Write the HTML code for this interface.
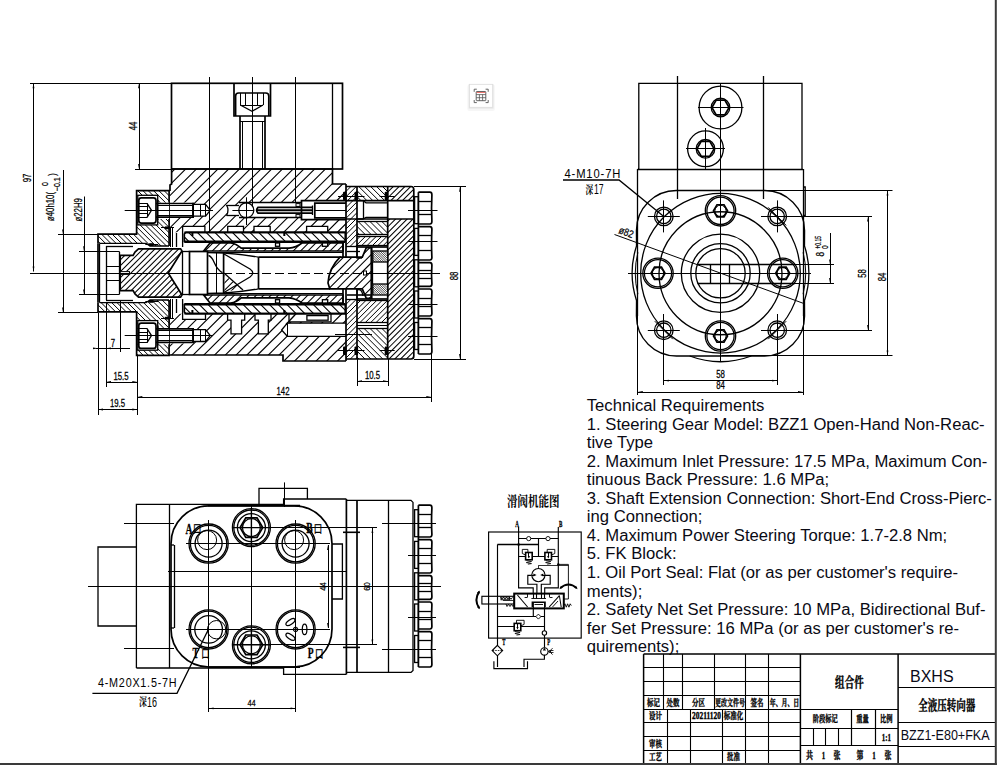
<!DOCTYPE html><html><head><meta charset="utf-8"><title>BZZ1-E80+FKA</title><style>html,body{margin:0;padding:0;background:#fff;overflow:hidden}svg{display:block}</style></head><body><svg width="1000" height="768" viewBox="0 0 1000 768" shape-rendering="geometricPrecision"><rect width="1000" height="768" fill="#fff"/>
<g id="v1">
<clipPath id="c1"><polygon points="171.6,169 332.5,169 332.5,184 346,184 346,361 283,361 283,355 170,355 170,185 171.6,184"/></clipPath><g clip-path="url(#c1)"><path d="M70.39,262.8L255.8,77.39M75.76,268.18L261.18,82.76M81.14,273.55L266.55,88.14M86.51,278.92L271.92,93.51M91.88,284.3L277.3,98.88M97.26,289.67L282.67,104.26M102.63,295.05L288.05,109.63M108.01,300.42L293.42,115.01M113.38,305.79L298.79,120.38M118.75,311.17L304.17,125.75M124.13,316.54L309.54,131.13M129.5,321.92L314.92,136.5M134.88,327.29L320.29,141.88M140.25,332.66L325.66,147.25M145.62,338.04L331.04,152.62M151,343.41L336.41,158M156.37,348.79L341.79,163.37M161.75,354.16L347.16,168.75M167.12,359.53L352.53,174.12M172.49,364.91L357.91,179.49M177.87,370.28L363.28,184.87M183.24,375.66L368.66,190.24M188.62,381.03L374.03,195.62M193.99,386.4L379.4,200.99M199.36,391.78L384.78,206.36M204.74,397.15L390.15,211.74M210.11,402.53L395.53,217.11M215.49,407.9L400.9,222.49M220.86,413.27L406.27,227.86M226.23,418.65L411.65,233.23M231.61,424.02L417.02,238.61M236.98,429.4L422.4,243.98M242.36,434.77L427.77,249.36M247.73,440.14L433.14,254.73M253.1,445.52L438.52,260.1M258.48,450.89L443.89,265.48" stroke="#000" stroke-width="1.1" fill="none"/></g>
<polygon points="170,232.3 346,232.3 346,313.7 170,313.7" fill="#fff" stroke="none" stroke-width="0" stroke-linejoin="miter"/>
<polygon points="182.6,226.4 204.9,226.4 204.9,232.3 182.6,232.3" fill="#fff" stroke="none" stroke-width="0" stroke-linejoin="miter"/>
<polygon points="227.7,226.4 243.5,226.4 243.5,232.3 227.7,232.3" fill="#fff" stroke="none" stroke-width="0" stroke-linejoin="miter"/>
<polygon points="254,226.4 270.2,226.4 270.2,232.3 254,232.3" fill="#fff" stroke="none" stroke-width="0" stroke-linejoin="miter"/>
<polygon points="306.6,226.4 327.7,226.4 327.7,232.3 306.6,232.3" fill="#fff" stroke="none" stroke-width="0" stroke-linejoin="miter"/>
<polygon points="183.4,313.7 205.5,313.7 205.5,319.4 183.4,319.4" fill="#fff" stroke="none" stroke-width="0" stroke-linejoin="miter"/>
<polygon points="227.6,313.7 244.7,313.7 244.7,320.2 227.6,320.2" fill="#fff" stroke="none" stroke-width="0" stroke-linejoin="miter"/>
<polygon points="231,320 241.6,320 241.6,333.8 231,333.8" fill="#fff" stroke="none" stroke-width="0" stroke-linejoin="miter"/>
<polygon points="255,313.7 271,313.7 271,320.2 255,320.2" fill="#fff" stroke="none" stroke-width="0" stroke-linejoin="miter"/>
<polygon points="258.4,320 268.3,320 268.3,333.8 258.4,333.8" fill="#fff" stroke="none" stroke-width="0" stroke-linejoin="miter"/>
<polygon points="289,313.7 331,313.7 331,321.9 289,321.9" fill="#fff" stroke="none" stroke-width="0" stroke-linejoin="miter"/>
<polygon points="169,202.6 193.1,202.6 193.1,204.4 205.6,204.4 210.2,210.3 205.6,216.1 193.1,216.1 193.1,217.3 169,217.3" fill="#fff" stroke="none" stroke-width="0" stroke-linejoin="miter"/>
<polygon points="169,343.4 193.1,343.4 193.1,341.6 205.6,341.6 210.2,335.7 205.6,329.9 193.1,329.9 193.1,328.7 169,328.7" fill="#fff" stroke="none" stroke-width="0" stroke-linejoin="miter"/>
<path d="M226.5,205 Q229.5,210.3 226.5,215.6 L239,215.6 L239,217.9 L301.5,217.9 L301.5,219.6 L346,219.6 L346,200.6 L301.5,200.6 L301.5,202.6 L239,202.6 L239,205 Z" fill="#fff" stroke="none" stroke-width="0" />
<polygon points="281.6,330 287.3,323.2 346,323.2 346,336.3 287.3,336.3" fill="#fff" stroke="none" stroke-width="0" stroke-linejoin="miter"/>
<polyline points="171.6,169 332.5,169 332.5,184 346,184" fill="none" stroke="#000" stroke-width="1.7" stroke-linejoin="miter"/>
<polyline points="171.6,169 171.6,184 170,185 170,191" fill="none" stroke="#000" stroke-width="1.7" stroke-linejoin="miter"/>
<polyline points="170,355 283,355 283,361 346,361" fill="none" stroke="#000" stroke-width="1.7" stroke-linejoin="miter"/>
<line x1="184.3" y1="232.3" x2="346" y2="232.3" stroke="#000" stroke-width="1.7"/>
<line x1="184.3" y1="313.7" x2="346" y2="313.7" stroke="#000" stroke-width="1.7"/>
<polyline points="227.7,232.3 227.7,226.4 243.5,226.4 243.5,232.3" fill="none" stroke="#000" stroke-width="1.3" stroke-linejoin="miter"/>
<polyline points="254,232.3 254,226.4 270.2,226.4 270.2,232.3" fill="none" stroke="#000" stroke-width="1.3" stroke-linejoin="miter"/>
<polyline points="306.6,232.3 306.6,226.4 327.7,226.4 327.7,232.3" fill="none" stroke="#000" stroke-width="1.3" stroke-linejoin="miter"/>
<polyline points="182.6,247 182.6,226.4 204.9,226.4 204.9,232.3" fill="none" stroke="#000" stroke-width="1.3" stroke-linejoin="miter"/>
<polyline points="182.6,299 182.6,319.4 205.5,319.4 205.5,313.7" fill="none" stroke="#000" stroke-width="1.3" stroke-linejoin="miter"/>
<polyline points="227.6,313.7 227.6,320.2 231,320.2 231,333.8 241.6,333.8 241.6,320.2 244.7,320.2 244.7,313.7" fill="none" stroke="#000" stroke-width="1.3" stroke-linejoin="miter"/>
<polyline points="255,313.7 255,320.2 258.4,320.2 258.4,333.8 268.3,333.8 268.3,320.2 271,320.2 271,313.7" fill="none" stroke="#000" stroke-width="1.3" stroke-linejoin="miter"/>
<polyline points="289,313.7 289,321.9 331,321.9 331,313.7" fill="none" stroke="#000" stroke-width="1.3" stroke-linejoin="miter"/>
<rect x="306.9" y="315.6" width="21.2" height="4.6" rx="0" fill="none" stroke="#000" stroke-width="1.3"/>
<polyline points="346,323.2 287.3,323.2 281.6,330 287.3,336.3 346,336.3" fill="none" stroke="#000" stroke-width="1.3" stroke-linejoin="miter"/>
<line x1="287.5" y1="323.2" x2="287.5" y2="336.3" stroke="#000" stroke-width="1"/>
<line x1="296" y1="313.7" x2="286" y2="324.5" stroke="#000" stroke-width="1.3"/>
<line x1="335" y1="334.5" x2="372" y2="334.5" stroke="#000" stroke-width="1"/>
<clipPath id="c2"><polygon points="98,234.2 136.6,234.2 136.6,190.6 169.1,190.6 169.1,246 150,246 146,243.3 98,243.3"/></clipPath><g clip-path="url(#c2)"><path d="M132.99,154.2L197.65,218.86M130.33,156.85L195,221.52M127.68,159.5L192.35,224.17M125.03,162.15L189.7,226.82M122.38,164.81L187.04,229.47M119.73,167.46L184.39,232.12M117.08,170.11L181.74,234.77M114.42,172.76L179.09,237.43M111.77,175.41L176.44,240.08M109.12,178.06L173.79,242.73M106.47,180.72L171.13,245.38M103.82,183.37L168.48,248.03M101.17,186.02L165.83,250.68M98.51,188.67L163.18,253.34M95.86,191.32L160.53,255.99M93.21,193.97L157.88,258.64M90.56,196.63L155.22,261.29M87.91,199.28L152.57,263.94M85.26,201.93L149.92,266.59M82.6,204.58L147.27,269.25M79.95,207.23L144.62,271.9M77.3,209.88L141.97,274.55M74.65,212.54L139.31,277.2M72,215.19L136.66,279.85M69.35,217.84L134.01,282.5" stroke="#000" stroke-width="1" fill="none"/></g>
<clipPath id="c3"><polygon points="98,311.8 136.6,311.8 136.6,355.4 169.1,355.4 169.1,300 150,300 146,302.7 98,302.7"/></clipPath><g clip-path="url(#c3)"><path d="M134.65,261.93L199.32,326.6M132,264.58L196.67,329.25M129.35,267.24L194.01,331.9M126.7,269.89L191.36,334.55M124.05,272.54L188.71,337.2M121.4,275.19L186.06,339.85M118.74,277.84L183.41,342.51M116.09,280.49L180.76,345.16M113.44,283.15L178.1,347.81M110.79,285.8L175.45,350.46M108.14,288.45L172.8,353.11M105.49,291.1L170.15,355.76M102.83,293.75L167.5,358.42M100.18,296.4L164.85,361.07M97.53,299.06L162.19,363.72M94.88,301.71L159.54,366.37M92.23,304.36L156.89,369.02M89.58,307.01L154.24,371.67M86.92,309.66L151.59,374.33M84.27,312.31L148.94,376.98M81.62,314.97L146.28,379.63M78.97,317.62L143.63,382.28M76.32,320.27L140.98,384.93M73.67,322.92L138.33,387.58M71.01,325.57L135.68,390.24M68.36,328.22L133.03,392.89" stroke="#000" stroke-width="1" fill="none"/></g>
<polyline points="98,243.3 98,234.2 136.6,234.2 136.6,190.6 169.1,190.6 169.1,246" fill="none" stroke="#000" stroke-width="1.7" stroke-linejoin="miter"/>
<polyline points="98,302.7 98,311.8 136.6,311.8 136.6,355.4 169.1,355.4 169.1,300" fill="none" stroke="#000" stroke-width="1.7" stroke-linejoin="miter"/>
<polyline points="99.7,243.3 146,243.3 150,246 169,246" fill="none" stroke="#000" stroke-width="1.3" stroke-linejoin="miter"/>
<polyline points="99.7,302.7 146,302.7 150,300 169,300" fill="none" stroke="#000" stroke-width="1.3" stroke-linejoin="miter"/>
<line x1="98" y1="243.3" x2="98" y2="302.7" stroke="#000" stroke-width="1.7"/>
<line x1="99.5" y1="243.3" x2="99.5" y2="302.7" stroke="#000" stroke-width="1.3"/>
<rect x="137.8" y="195.3" width="19.9" height="29.6" rx="0" fill="#fff" stroke="#000" stroke-width="1.3"/>
<rect x="157.7" y="202.6" width="11.4" height="16.4" rx="0" fill="#fff" stroke="none" stroke-width="0"/>
<rect x="138.8" y="197.9" width="17.2" height="25.2" rx="2.5" fill="none" stroke="#000" stroke-width="1.7"/>
<line x1="139" y1="203.5" x2="147" y2="203.5" stroke="#000" stroke-width="1"/>
<line x1="139" y1="206.5" x2="147" y2="206.5" stroke="#000" stroke-width="1"/>
<line x1="139" y1="213.5" x2="147" y2="213.5" stroke="#000" stroke-width="1"/>
<line x1="139" y1="217.5" x2="147" y2="217.5" stroke="#000" stroke-width="1"/>
<polyline points="147,203.3 151.5,210.3 147,217.3" fill="none" stroke="#000" stroke-width="1.3" stroke-linejoin="miter"/>
<line x1="147.5" y1="203.3" x2="147.5" y2="217.3" stroke="#000" stroke-width="1"/>
<polyline points="156,203.5 193.1,203.5 193.1,217.1 156,217.1" fill="none" stroke="#000" stroke-width="1.7" stroke-linejoin="miter"/>
<line x1="158" y1="205.5" x2="193" y2="205.5" stroke="#000" stroke-width="1"/>
<line x1="158" y1="215.5" x2="193" y2="215.5" stroke="#000" stroke-width="1"/>
<line x1="157.7" y1="200.3" x2="157.7" y2="220.3" stroke="#000" stroke-width="1.7"/>
<polyline points="193.1,204.4 205.6,204.4 210.2,210.3 205.6,216.2 193.1,216.2" fill="none" stroke="#000" stroke-width="1.3" stroke-linejoin="miter"/>
<line x1="200.5" y1="204.4" x2="200.5" y2="216.2" stroke="#000" stroke-width="1"/>
<line x1="205.5" y1="204.4" x2="205.5" y2="216.2" stroke="#000" stroke-width="1"/>
<line x1="193.1" y1="202.8" x2="193.1" y2="217.8" stroke="#000" stroke-width="1.8"/>
<line x1="124.7" y1="210.5" x2="213" y2="210.5" stroke="#000" stroke-width="1"/>
<rect x="137.8" y="320.6" width="19.9" height="29.6" rx="0" fill="#fff" stroke="#000" stroke-width="1.3"/>
<rect x="157.7" y="327.9" width="11.4" height="16.4" rx="0" fill="#fff" stroke="none" stroke-width="0"/>
<rect x="138.8" y="323.2" width="17.2" height="25.2" rx="2.5" fill="none" stroke="#000" stroke-width="1.7"/>
<line x1="139" y1="328.5" x2="147" y2="328.5" stroke="#000" stroke-width="1"/>
<line x1="139" y1="332.5" x2="147" y2="332.5" stroke="#000" stroke-width="1"/>
<line x1="139" y1="339.5" x2="147" y2="339.5" stroke="#000" stroke-width="1"/>
<line x1="139" y1="342.5" x2="147" y2="342.5" stroke="#000" stroke-width="1"/>
<polyline points="147,328.6 151.5,335.6 147,342.6" fill="none" stroke="#000" stroke-width="1.3" stroke-linejoin="miter"/>
<line x1="147.5" y1="328.6" x2="147.5" y2="342.6" stroke="#000" stroke-width="1"/>
<polyline points="156,328.8 193.1,328.8 193.1,342.4 156,342.4" fill="none" stroke="#000" stroke-width="1.7" stroke-linejoin="miter"/>
<line x1="158" y1="330.5" x2="193" y2="330.5" stroke="#000" stroke-width="1"/>
<line x1="158" y1="340.5" x2="193" y2="340.5" stroke="#000" stroke-width="1"/>
<line x1="157.7" y1="325.6" x2="157.7" y2="345.6" stroke="#000" stroke-width="1.7"/>
<polyline points="193.1,329.7 205.6,329.7 210.2,335.6 205.6,341.5 193.1,341.5" fill="none" stroke="#000" stroke-width="1.3" stroke-linejoin="miter"/>
<line x1="200.5" y1="329.7" x2="200.5" y2="341.5" stroke="#000" stroke-width="1"/>
<line x1="205.5" y1="329.7" x2="205.5" y2="341.5" stroke="#000" stroke-width="1"/>
<line x1="193.1" y1="328.1" x2="193.1" y2="343.1" stroke="#000" stroke-width="1.8"/>
<line x1="124.7" y1="335.5" x2="213" y2="335.5" stroke="#000" stroke-width="1"/>
<rect x="149.1" y="243.2" width="4.4" height="2.8" rx="0" fill="#000" stroke="none" stroke-width="0"/>
<line x1="145.3" y1="244.5" x2="158.3" y2="244.5" stroke="#000" stroke-width="1"/>
<rect x="164.8" y="226.4" width="4.4" height="2.8" rx="0" fill="#000" stroke="none" stroke-width="0"/>
<line x1="161" y1="227.5" x2="174" y2="227.5" stroke="#000" stroke-width="1"/>
<rect x="149.1" y="300" width="4.4" height="2.8" rx="0" fill="#000" stroke="none" stroke-width="0"/>
<line x1="145.3" y1="301.5" x2="158.3" y2="301.5" stroke="#000" stroke-width="1"/>
<rect x="164.8" y="316.8" width="4.4" height="2.8" rx="0" fill="#000" stroke="none" stroke-width="0"/>
<line x1="161" y1="318.5" x2="174" y2="318.5" stroke="#000" stroke-width="1"/>
<line x1="170.5" y1="227" x2="170.5" y2="247" stroke="#000" stroke-width="1"/>
<line x1="172.5" y1="227" x2="172.5" y2="247" stroke="#000" stroke-width="1"/>
<line x1="170.5" y1="299" x2="170.5" y2="319" stroke="#000" stroke-width="1"/>
<line x1="172.5" y1="299" x2="172.5" y2="319" stroke="#000" stroke-width="1"/>
<line x1="176.5" y1="233" x2="176.5" y2="247" stroke="#000" stroke-width="1.3"/>
<line x1="176.5" y1="299" x2="176.5" y2="313" stroke="#000" stroke-width="1.3"/>
<line x1="106.5" y1="246" x2="106.5" y2="300" stroke="#000" stroke-width="1.3"/>
<line x1="106" y1="246.5" x2="133" y2="246.5" stroke="#000" stroke-width="1.3"/>
<line x1="106" y1="300.5" x2="133" y2="300.5" stroke="#000" stroke-width="1.3"/>
<line x1="119.5" y1="251.8" x2="119.5" y2="294.2" stroke="#000" stroke-width="1.3"/>
<line x1="98" y1="251.5" x2="119.6" y2="251.5" stroke="#000" stroke-width="1"/>
<line x1="98" y1="294.5" x2="119.6" y2="294.5" stroke="#000" stroke-width="1"/>
<line x1="106" y1="266.5" x2="119.6" y2="266.5" stroke="#000" stroke-width="1"/>
<line x1="106" y1="280.5" x2="119.6" y2="280.5" stroke="#000" stroke-width="1"/>
<clipPath id="c4"><polygon points="120.2,255.3 133.1,255.3 135,252 138.5,248.9 180.6,248.9 182,251 168.2,273 182,295 180.6,297.1 138.5,297.1 135,294 133.1,290.7 120.2,290.7"/></clipPath><g clip-path="url(#c4)"><path d="M94.97,273.29L151.39,216.87M97.94,276.26L154.36,219.84M100.91,279.23L157.33,222.81M103.88,282.2L160.3,225.78M106.85,285.17L163.27,228.75M109.82,288.14L166.24,231.72M112.79,291.11L169.21,234.69M115.76,294.08L172.18,237.66M118.73,297.05L175.15,240.63M121.7,300.02L178.12,243.6M124.67,302.99L181.09,246.57M127.64,305.96L184.06,249.54M130.61,308.93L187.03,252.51M133.58,311.9L190,255.48M136.55,314.87L192.97,258.45M139.52,317.84L195.94,261.42M142.49,320.81L198.91,264.39M145.46,323.78L201.88,267.36M148.43,326.74L204.84,270.33M151.4,329.71L207.81,273.3" stroke="#000" stroke-width="1.05" fill="none"/></g>
<polygon points="120.2,255.3 133.1,255.3 135,252 138.5,248.9 180.6,248.9 182,251 168.2,273 182,295 180.6,297.1 138.5,297.1 135,294 133.1,290.7 120.2,290.7" fill="none" stroke="#000" stroke-width="1.7" stroke-linejoin="miter"/>
<rect x="120.2" y="271.6" width="9.3" height="2.8" rx="0" fill="#fff" stroke="#000" stroke-width="1"/>
<line x1="182.5" y1="251" x2="182.5" y2="295" stroke="#000" stroke-width="1.3"/>
<line x1="168.2" y1="273.5" x2="182" y2="273.5" stroke="#000" stroke-width="1"/>
<clipPath id="c5"><polygon points="186,232.3 345.3,232.3 345.3,241.3 184.3,241.3 184.3,234"/></clipPath><g clip-path="url(#c5)"><path d="M264.59,150.6L351,237.01M260.2,154.98L346.62,241.4M255.82,159.37L342.23,245.78M251.43,163.75L337.85,250.17M247.05,168.14L333.46,254.55M242.67,172.52L329.08,258.93M238.28,176.9L324.7,263.32M233.9,181.29L320.31,267.7M229.51,185.67L315.93,272.09M225.13,190.06L311.54,276.47M220.75,194.44L307.16,280.85M216.36,198.82L302.78,285.24M211.98,203.21L298.39,289.62M207.59,207.59L294.01,294.01M203.21,211.98L289.62,298.39M198.82,216.36L285.24,302.78M194.44,220.75L280.85,307.16M190.06,225.13L276.47,311.54M185.67,229.51L272.09,315.93M181.29,233.9L267.7,320.31M176.9,238.28L263.32,324.7" stroke="#000" stroke-width="1.1" fill="none"/></g>
<clipPath id="c6"><polygon points="186,313.7 345.3,313.7 345.3,304.7 184.3,304.7 184.3,312"/></clipPath><g clip-path="url(#c6)"><path d="M265.71,221.87L352.13,308.29M261.33,226.26L347.74,312.67M256.95,230.64L343.36,317.05M252.56,235.02L338.98,321.44M248.18,239.41L334.59,325.82M243.79,243.79L330.21,330.21M239.41,248.18L325.82,334.59M235.02,252.56L321.44,338.98M230.64,256.95L317.05,343.36M226.26,261.33L312.67,347.74M221.87,265.71L308.29,352.13M217.49,270.1L303.9,356.51M213.1,274.48L299.52,360.9M208.72,278.87L295.13,365.28M204.34,283.25L290.75,369.66M199.95,287.63L286.37,374.05M195.57,292.02L281.98,378.43M191.18,296.4L277.6,382.82M186.8,300.79L273.21,387.2M182.42,305.17L268.83,391.58M178.03,309.55L264.45,395.97" stroke="#000" stroke-width="1.1" fill="none"/></g>
<polygon points="186,232.3 345.3,232.3 345.3,241.3 184.3,241.3 184.3,234" fill="none" stroke="#000" stroke-width="1.7" stroke-linejoin="miter"/>
<polygon points="186,313.7 345.3,313.7 345.3,304.7 184.3,304.7 184.3,312" fill="none" stroke="#000" stroke-width="1.7" stroke-linejoin="miter"/>
<rect x="191.4" y="233" width="2" height="3" rx="0" fill="#000" stroke="none" stroke-width="0"/>
<rect x="191.4" y="310" width="2" height="3" rx="0" fill="#000" stroke="none" stroke-width="0"/>
<rect x="283.3" y="233" width="2" height="3" rx="0" fill="#000" stroke="none" stroke-width="0"/>
<rect x="283.3" y="310" width="2" height="3" rx="0" fill="#000" stroke="none" stroke-width="0"/>
<clipPath id="c7"><path d="M210,243 L230.6,243 Q236,243.5 241.2,248.2 L289,248.2 Q296,247.5 302,243 L343,243 L343,251 L203.7,251 Z"/></clipPath><g clip-path="url(#c7)"><path d="M196.26,244.97L271.32,169.91M199.94,248.65L275,173.59M203.61,252.33L278.68,177.26M207.29,256.01L282.36,180.94M210.97,259.68L286.03,184.62M214.64,263.36L289.71,188.29M218.32,267.04L293.39,191.97M222,270.71L297.06,195.65M225.68,274.39L300.74,199.33M229.35,278.07L304.42,203M233.03,281.74L308.09,206.68M236.71,285.42L311.77,210.36M240.38,289.1L315.45,214.03M244.06,292.77L319.12,217.71M247.74,296.45L322.8,221.39M251.41,300.13L326.48,225.06M255.09,303.81L330.16,228.74M258.77,307.48L333.83,232.42M262.45,311.16L337.51,236.1M266.12,314.84L341.19,239.77M269.8,318.51L344.86,243.45M273.48,322.19L348.54,247.13" stroke="#000" stroke-width="1.05" fill="none"/></g>
<path d="M210,243 L230.6,243 Q236,243.5 241.2,248.2 L289,248.2 Q296,247.5 302,243 L343,243 L343,251 L203.7,251 Z" fill="none" stroke="#000" stroke-width="1.7" />
<clipPath id="c8"><path d="M210,303 L230.6,303 Q236,302.5 241.2,297.8 L289,297.8 Q296,298.5 302,303 L343,303 L343,295 L203.7,295 Z"/></clipPath><g clip-path="url(#c8)"><path d="M196,296.71L271.06,221.65M199.68,300.39L274.74,225.33M203.35,304.07L278.42,229M207.03,307.74L282.09,232.68M210.71,311.42L285.77,236.36M214.38,315.1L289.45,240.03M218.06,318.77L293.12,243.71M221.74,322.45L296.8,247.39M225.41,326.13L300.48,251.06M229.09,329.81L304.16,254.74M232.77,333.48L307.83,258.42M236.45,337.16L311.51,262.1M240.12,340.84L315.19,265.77M243.8,344.51L318.86,269.45M247.48,348.19L322.54,273.13M251.15,351.87L326.22,276.8M254.83,355.54L329.89,280.48M258.51,359.22L333.57,284.16M262.18,362.9L337.25,287.83M265.86,366.58L340.93,291.51M269.54,370.25L344.6,295.19M273.21,373.93L348.28,298.86" stroke="#000" stroke-width="1.05" fill="none"/></g>
<path d="M210,303 L230.6,303 Q236,302.5 241.2,297.8 L289,297.8 Q296,298.5 302,303 L343,303 L343,295 L203.7,295 Z" fill="none" stroke="#000" stroke-width="1.7" />
<rect x="275.5" y="243" width="4.1" height="3.3" rx="0" fill="#fff" stroke="#000" stroke-width="1.3"/>
<rect x="275.5" y="299.7" width="4.1" height="3.3" rx="0" fill="#fff" stroke="#000" stroke-width="1.3"/>
<rect x="322.4" y="243" width="5.3" height="3.3" rx="0" fill="#fff" stroke="#000" stroke-width="1.3"/>
<rect x="322.4" y="299.7" width="5.3" height="3.3" rx="0" fill="#fff" stroke="#000" stroke-width="1.3"/>
<line x1="184.3" y1="242.5" x2="345" y2="242.5" stroke="#000" stroke-width="1"/>
<line x1="184.3" y1="303.5" x2="345" y2="303.5" stroke="#000" stroke-width="1"/>
<rect x="189.5" y="251.5" width="18" height="43" rx="0" fill="#fff" stroke="#000" stroke-width="1.7"/>
<line x1="183" y1="251.5" x2="189.6" y2="251.5" stroke="#000" stroke-width="1.3"/>
<line x1="183" y1="294.5" x2="189.6" y2="294.5" stroke="#000" stroke-width="1.3"/>
<line x1="216.5" y1="253" x2="216.5" y2="293" stroke="#000" stroke-width="1"/>
<line x1="223.6" y1="253" x2="223.6" y2="293" stroke="#000" stroke-width="1.7"/>
<path d="M207.5,252.6 L224,253 Q242,254.2 258.5,257.2" fill="none" stroke="#000" stroke-width="1.3" />
<path d="M207.5,293.4 L224,293 Q242,291.8 258.5,288.8" fill="none" stroke="#000" stroke-width="1.3" />
<path d="M208.5,255.5 C215,257 213,268 222.5,272.6" fill="none" stroke="#000" stroke-width="1.3" />
<path d="M224,254 L250,269 Q255.5,273 250,277 L224,292.5" fill="none" stroke="#000" stroke-width="1.3" />
<line x1="224" y1="273" x2="243" y2="290" stroke="#000" stroke-width="1.3"/>
<clipPath id="c9"><polygon points="224.5,275 236,284.3 241,288.7 224.5,292"/></clipPath><g clip-path="url(#c9)"><path d="M211.9,280.81L230.06,262.65M215.58,284.49L233.74,266.33M219.25,288.17L237.42,270M222.93,291.84L241.09,273.68M226.61,295.52L244.77,277.36M230.28,299.2L248.45,281.03M233.96,302.87L252.12,284.71" stroke="#000" stroke-width="1.05" fill="none"/></g>
<line x1="258.5" y1="257.1" x2="341" y2="257.1" stroke="#000" stroke-width="1.7"/>
<line x1="258.5" y1="288.9" x2="330" y2="288.9" stroke="#000" stroke-width="1.7"/>
<line x1="258.5" y1="257.1" x2="258.5" y2="288.9" stroke="#000" stroke-width="1.7"/>
<line x1="207.2" y1="252.5" x2="343" y2="252.5" stroke="#000" stroke-width="1"/>
<line x1="207.2" y1="293.5" x2="343" y2="293.5" stroke="#000" stroke-width="1"/>
<path d="M340,257.1 L362.3,257.1 L366.3,247.7 L371.5,247.7 L371.5,298.3 L366.3,298.3 L362.3,288.9 L329.8,288.9 L328,283 Q329,268 340,257.1 Z" fill="#fff" stroke="none" stroke-width="0" />
<clipPath id="c10"><path d="M340,257.1 L362.3,257.1 L366.3,247.7 L371.5,247.7 L371.5,298.3 L366.3,298.3 L362.3,288.9 L329.8,288.9 L328,283 Q329,268 340,257.1 Z"/></clipPath><g clip-path="url(#c10)"><path d="M297.83,269.55L346.3,221.08M302.01,273.72L350.47,225.26M306.18,277.89L354.64,229.43M310.35,282.06L358.81,233.6M314.52,286.24L362.99,237.77M318.69,290.41L367.16,241.94M322.87,294.58L371.33,246.12M327.04,298.75L375.5,250.29M331.21,302.92L379.67,254.46M335.38,307.1L383.85,258.63M339.55,311.27L388.02,262.8M343.73,315.44L392.19,266.98M347.9,319.61L396.36,271.15M352.07,323.78L400.53,275.32" stroke="#000" stroke-width="1.1" fill="none"/></g>
<path d="M340,257.1 L362.3,257.1 L366.3,247.7 L371.5,247.7 L371.5,298.3 L366.3,298.3 L362.3,288.9 L329.8,288.9 L328,283 Q329,268 340,257.1 Z" fill="none" stroke="#000" stroke-width="1.7" />
<rect x="363.5" y="271" width="3" height="4" rx="0" fill="#fff" stroke="#000" stroke-width="1"/>
<clipPath id="c11"><polygon points="346,186.5 357,186.5 357,246.3 346,246.3"/></clipPath><g clip-path="url(#c11)"><path d="M315.16,216.87L351.97,180.06M317.84,219.56L354.66,182.74M320.53,222.24L357.34,185.43M323.22,224.93L360.03,188.12M325.9,227.62L362.72,190.8M328.59,230.31L365.41,193.49M331.28,232.99L368.09,196.18M333.97,235.68L370.78,198.87M336.65,238.37L373.47,201.55M339.34,241.05L376.15,204.24M342.03,243.74L378.84,206.93M344.71,246.43L381.53,209.61M347.4,249.11L384.21,212.3M350.09,251.8L386.9,214.99M352.77,254.49L389.59,217.67" stroke="#000" stroke-width="1" fill="none"/></g>
<clipPath id="c12"><polygon points="346,299.8 357,299.8 357,359 346,359"/></clipPath><g clip-path="url(#c12)"><path d="M315.23,329.65L351.75,293.13M317.92,332.33L354.43,295.82M320.61,335.02L357.12,298.51M323.29,337.71L359.81,301.19M325.98,340.4L362.5,303.88M328.67,343.08L365.18,306.57M331.36,345.77L367.87,309.26M334.04,348.46L370.56,311.94M336.73,351.14L373.24,314.63M339.42,353.83L375.93,317.32M342.1,356.52L378.62,320M344.79,359.2L381.3,322.69M347.48,361.89L383.99,325.38M350.16,364.58L386.68,328.06M352.85,367.27L389.37,330.75" stroke="#000" stroke-width="1" fill="none"/></g>
<clipPath id="c13"><polygon points="357,186.5 387.7,186.5 387.7,200.6 357,200.6"/></clipPath><g clip-path="url(#c13)"><path d="M372.02,170.07L395.83,193.88M369.05,173.04L392.86,196.85M366.08,176.01L389.89,199.82M363.11,178.98L386.92,202.79M360.14,181.95L383.95,205.76M357.17,184.92L380.98,208.73M354.2,187.89L378.01,211.7M351.23,190.86L375.04,214.67M348.26,193.83L372.07,217.64" stroke="#000" stroke-width="1" fill="none"/></g>
<clipPath id="c14"><polygon points="357,221 387.7,221 387.7,234 357,234"/></clipPath><g clip-path="url(#c14)"><path d="M374.42,202.17L397.68,225.43M371.45,205.14L394.71,228.4M368.48,208.11L391.74,231.37M365.51,211.08L388.77,234.34M362.54,214.05L385.8,237.31M359.57,217.02L382.83,240.28M356.6,219.99L379.86,243.25M353.63,222.96L376.89,246.22M350.66,225.93L373.92,249.19M347.69,228.9L370.95,252.16" stroke="#000" stroke-width="1" fill="none"/></g>
<clipPath id="c15"><polygon points="357,236 387.7,236 387.7,245.8 357,245.8"/></clipPath><g clip-path="url(#c15)"><path d="M350.46,240.68L372.13,219.01M353.15,243.36L374.81,221.7M355.84,246.05L377.5,224.39M358.52,248.74L380.19,227.07M361.21,251.43L382.88,229.76M363.9,254.11L385.56,232.45M366.59,256.8L388.25,235.14M369.27,259.49L390.94,237.82M371.96,262.17L393.62,240.51" stroke="#000" stroke-width="1" fill="none"/></g>
<clipPath id="c16"><polygon points="357,300.6 387.7,300.6 387.7,322.7 357,322.7"/></clipPath><g clip-path="url(#c16)"><path d="M344.26,311.37L372.07,283.56M346.94,314.06L374.76,286.24M349.63,316.75L377.45,288.93M352.32,319.43L380.13,291.62M355.01,322.12L382.82,294.31M357.69,324.81L385.51,296.99M360.38,327.49L388.19,299.68M363.07,330.18L390.88,302.37M365.75,332.87L393.57,305.05M368.44,335.55L396.25,307.74M371.13,338.24L398.94,310.43M373.81,340.93L401.63,313.11" stroke="#000" stroke-width="1" fill="none"/></g>
<clipPath id="c17"><polygon points="357,328.7 387.7,328.7 387.7,359 357,359"/></clipPath><g clip-path="url(#c17)"><path d="M371.84,312.44L403.76,344.36M368.87,315.41L400.79,347.33M365.9,318.38L397.82,350.3M362.93,321.35L394.85,353.27M359.96,324.32L391.88,356.24M356.99,327.29L388.91,359.21M354.02,330.26L385.94,362.18M351.05,333.23L382.97,365.15M348.08,336.2L380,368.12M345.11,339.17L377.03,371.09M342.14,342.14L374.06,374.06M339.17,345.11L371.09,377.03" stroke="#000" stroke-width="1" fill="none"/></g>
<clipPath id="c18"><path d="M387.7,186.5 L411,186.5 Q413.8,186.5 413.8,189.5 L413.8,200.6 L387.7,200.6 Z"/></clipPath><g clip-path="url(#c18)"><path d="M379.86,194.17L401.37,172.66M382.76,197.07L404.27,175.56M385.66,199.97L407.17,178.46M388.55,202.87L410.07,181.35M391.45,205.77L412.97,184.25M394.35,208.67L415.87,187.15M397.25,211.57L418.77,190.05M400.15,214.47L421.67,192.95" stroke="#000" stroke-width="1.05" fill="none"/></g>
<clipPath id="c19"><path d="M387.7,219 L413.8,219 L413.8,356 Q413.8,359 411,359 L387.7,359 Z"/></clipPath><g clip-path="url(#c19)"><path d="M315.15,287.87L399.62,203.4M318.05,290.77L402.52,206.3M320.95,293.67L405.42,209.2M323.85,296.56L408.31,212.1M326.75,299.46L411.21,215M329.65,302.36L414.11,217.9M332.55,305.26L417.01,220.8M335.45,308.16L419.91,223.7M338.35,311.06L422.81,226.6M341.25,313.96L425.71,229.5M344.14,316.86L428.61,232.39M347.04,319.76L431.51,235.29M349.94,322.66L434.41,238.19M352.84,325.56L437.31,241.09M355.74,328.46L440.21,243.99M358.64,331.35L443.1,246.89M361.54,334.25L446,249.79M364.44,337.15L448.9,252.69M367.34,340.05L451.8,255.59M370.24,342.95L454.7,258.49M373.14,345.85L457.6,261.39M376.04,348.75L460.5,264.29M378.93,351.65L463.4,267.18M381.83,354.55L466.3,270.08M384.73,357.45L469.2,272.98M387.63,360.35L472.1,275.88M390.53,363.25L475,278.78M393.43,366.14L477.89,281.68M396.33,369.04L480.79,284.58M399.23,371.94L483.69,287.48M402.13,374.84L486.59,290.38" stroke="#000" stroke-width="1.05" fill="none"/></g>
<path d="M346,186.5 L411,186.5 Q413.8,186.5 413.8,189.5 L413.8,356 Q413.8,359 411,359 L346,359" fill="none" stroke="#000" stroke-width="1.7" />
<line x1="346" y1="184" x2="346" y2="257" stroke="#000" stroke-width="1.7"/>
<line x1="346" y1="289" x2="346" y2="361" stroke="#000" stroke-width="1.7"/>
<line x1="357" y1="186.5" x2="357" y2="257" stroke="#000" stroke-width="1.7"/>
<line x1="357" y1="289" x2="357" y2="359" stroke="#000" stroke-width="1.7"/>
<line x1="387.7" y1="186.5" x2="387.7" y2="359" stroke="#000" stroke-width="1.7"/>
<line x1="346" y1="200.6" x2="413.8" y2="200.6" stroke="#000" stroke-width="1.7"/>
<line x1="346" y1="219" x2="413.8" y2="219" stroke="#000" stroke-width="1.7"/>
<path d="M357,200.6 L363,200.6 L366,202.8 L387.7,202.8" fill="none" stroke="#000" stroke-width="1.3" />
<path d="M357,219 L363,219 L366,217.4 L387.7,217.4" fill="none" stroke="#000" stroke-width="1.3" />
<line x1="363.5" y1="200.6" x2="363.5" y2="219" stroke="#000" stroke-width="1.3"/>
<line x1="357" y1="221.5" x2="387.7" y2="221.5" stroke="#000" stroke-width="1.3"/>
<line x1="357" y1="234.5" x2="387.7" y2="234.5" stroke="#000" stroke-width="1.3"/>
<line x1="357" y1="236.5" x2="387.7" y2="236.5" stroke="#000" stroke-width="1.3"/>
<line x1="357" y1="245.5" x2="387.7" y2="245.5" stroke="#000" stroke-width="1.3"/>
<line x1="346" y1="246.5" x2="357" y2="246.5" stroke="#000" stroke-width="1.3"/>
<line x1="357" y1="247" x2="387.7" y2="247" stroke="#000" stroke-width="1.7"/>
<line x1="346" y1="299.5" x2="357" y2="299.5" stroke="#000" stroke-width="1.3"/>
<line x1="357" y1="299" x2="387.7" y2="299" stroke="#000" stroke-width="1.7"/>
<line x1="357" y1="300.5" x2="387.7" y2="300.5" stroke="#000" stroke-width="1.3"/>
<line x1="357" y1="322.5" x2="387.7" y2="322.5" stroke="#000" stroke-width="1.3"/>
<line x1="357" y1="325.5" x2="387.7" y2="325.5" stroke="#000" stroke-width="1"/>
<line x1="357" y1="328.5" x2="387.7" y2="328.5" stroke="#000" stroke-width="1.3"/>
<rect x="372.8" y="251" width="14.9" height="11" rx="0" fill="#fff" stroke="none" stroke-width="0"/>
<clipPath id="c20"><polygon points="372.8,251 387.7,251 387.7,262 372.8,262"/></clipPath><g clip-path="url(#c20)"><path d="M380.21,242.18L394.57,256.54M379.08,243.31L393.44,257.67M377.94,244.44L392.31,258.81M376.81,245.57L391.18,259.94M375.68,246.7L390.05,261.07M374.55,247.84L388.91,262.2M373.42,248.97L387.78,263.33M372.29,250.1L386.65,264.46M371.16,251.23L385.52,265.59M370.02,252.36L384.39,266.73M368.89,253.49L383.26,267.86M367.76,254.62L382.13,268.99M366.63,255.76L380.99,270.12M365.5,256.89L379.86,271.25" stroke="#111" stroke-width="0.75" fill="none"/></g>
<rect x="372.8" y="251" width="14.9" height="11" rx="0" fill="none" stroke="#000" stroke-width="1.3"/>
<rect x="372.8" y="284" width="14.9" height="11" rx="0" fill="#fff" stroke="none" stroke-width="0"/>
<clipPath id="c21"><polygon points="372.8,284 387.7,284 387.7,295 372.8,295"/></clipPath><g clip-path="url(#c21)"><path d="M379.74,275.65L394.1,290.01M378.6,276.78L392.97,291.15M377.47,277.91L391.84,292.28M376.34,279.04L390.71,293.41M375.21,280.18L389.57,294.54M374.08,281.31L388.44,295.67M372.95,282.44L387.31,296.8M371.82,283.57L386.18,297.93M370.68,284.7L385.05,299.07M369.55,285.83L383.92,300.2M368.42,286.96L382.79,301.33M367.29,288.09L381.66,302.46M366.16,289.23L380.52,303.59" stroke="#111" stroke-width="0.75" fill="none"/></g>
<rect x="372.8" y="284" width="14.9" height="11" rx="0" fill="none" stroke="#000" stroke-width="1.3"/>
<line x1="371.5" y1="247" x2="371.5" y2="299" stroke="#000" stroke-width="1.7"/>
<line x1="372.5" y1="262" x2="372.5" y2="284" stroke="#000" stroke-width="1.3"/>
<line x1="343" y1="243" x2="343" y2="257" stroke="#000" stroke-width="1.7"/>
<line x1="343" y1="289" x2="343" y2="303" stroke="#000" stroke-width="1.7"/>
<line x1="347" y1="251.5" x2="360" y2="251.5" stroke="#000" stroke-width="1.3"/>
<line x1="347" y1="295" x2="372" y2="295" stroke="#000" stroke-width="1.6"/>
<path d="M357,247 L357,258 L362,258" fill="none" stroke="#000" stroke-width="1.3" />
<path d="M357,299 L357,290 Q362,288 363,296" fill="none" stroke="#000" stroke-width="1.3" />
<rect x="343" y="191.8" width="3.6" height="8.4" rx="1" fill="#000" stroke="none" stroke-width="0"/>
<line x1="338" y1="196.5" x2="353" y2="196.5" stroke="#000" stroke-width="1"/>
<rect x="343" y="346.6" width="3.6" height="8.4" rx="1" fill="#000" stroke="none" stroke-width="0"/>
<line x1="338" y1="350.5" x2="353" y2="350.5" stroke="#000" stroke-width="1"/>
<rect x="354.5" y="191.8" width="3.6" height="8.4" rx="1" fill="#000" stroke="none" stroke-width="0"/>
<line x1="349.5" y1="196.5" x2="364.5" y2="196.5" stroke="#000" stroke-width="1"/>
<rect x="354.5" y="346.6" width="3.6" height="8.4" rx="1" fill="#000" stroke="none" stroke-width="0"/>
<line x1="349.5" y1="350.5" x2="364.5" y2="350.5" stroke="#000" stroke-width="1"/>
<rect x="384.7" y="191.8" width="3.6" height="8.4" rx="1" fill="#000" stroke="none" stroke-width="0"/>
<line x1="379.7" y1="196.5" x2="394.7" y2="196.5" stroke="#000" stroke-width="1"/>
<rect x="384.7" y="346.6" width="3.6" height="8.4" rx="1" fill="#000" stroke="none" stroke-width="0"/>
<line x1="379.7" y1="350.5" x2="394.7" y2="350.5" stroke="#000" stroke-width="1"/>
<line x1="418.4" y1="192.2" x2="418.4" y2="354" stroke="#000" stroke-width="1.7"/>
<path d="M418.4,192.2 L430,192.2 Q431.8,192.2 431.9,194.7 Q431.2,208.1 431.9,221.5 Q431.8,224 430,224 L418.4,224" fill="none" stroke="#000" stroke-width="1.7" />
<line x1="418.4" y1="201.5" x2="431.6" y2="201.5" stroke="#000" stroke-width="1.3"/>
<line x1="418.4" y1="214.5" x2="431.6" y2="214.5" stroke="#000" stroke-width="1.3"/>
<path d="M418.4,226.6 L430,226.6 Q431.8,226.6 431.9,229.1 Q431.2,243.3 431.9,257.5 Q431.8,260 430,260 L418.4,260" fill="none" stroke="#000" stroke-width="1.7" />
<line x1="418.4" y1="235.5" x2="431.6" y2="235.5" stroke="#000" stroke-width="1.3"/>
<line x1="418.4" y1="250.5" x2="431.6" y2="250.5" stroke="#000" stroke-width="1.3"/>
<path d="M418.4,262.6 L430,262.6 Q431.8,262.6 431.9,265.1 Q431.2,274.5 431.9,283.9 Q431.8,286.4 430,286.4 L418.4,286.4" fill="none" stroke="#000" stroke-width="1.7" />
<line x1="418.4" y1="270.5" x2="431.6" y2="270.5" stroke="#000" stroke-width="1.3"/>
<line x1="418.4" y1="278.5" x2="431.6" y2="278.5" stroke="#000" stroke-width="1.3"/>
<path d="M418.4,289 L430,289 Q431.8,289 431.9,291.5 Q431.2,302.5 431.9,313.5 Q431.8,316 430,316 L418.4,316" fill="none" stroke="#000" stroke-width="1.7" />
<line x1="418.4" y1="298.5" x2="431.6" y2="298.5" stroke="#000" stroke-width="1.3"/>
<line x1="418.4" y1="306.5" x2="431.6" y2="306.5" stroke="#000" stroke-width="1.3"/>
<path d="M418.4,318.6 L430,318.6 Q431.8,318.6 431.9,321.1 Q431.2,336.3 431.9,351.5 Q431.8,354 430,354 L418.4,354" fill="none" stroke="#000" stroke-width="1.7" />
<line x1="418.4" y1="327.5" x2="431.6" y2="327.5" stroke="#000" stroke-width="1.3"/>
<line x1="418.4" y1="344.5" x2="431.6" y2="344.5" stroke="#000" stroke-width="1.3"/>
<rect x="414.6" y="196.7" width="3.8" height="27" rx="0" fill="none" stroke="#000" stroke-width="1.3"/>
<line x1="408" y1="210.5" x2="437.5" y2="210.5" stroke="#000" stroke-width="1"/>
<rect x="414.6" y="228.4" width="3.8" height="27" rx="0" fill="none" stroke="#000" stroke-width="1.3"/>
<line x1="408" y1="241.5" x2="437.5" y2="241.5" stroke="#000" stroke-width="1"/>
<rect x="414.6" y="259.8" width="3.8" height="27" rx="0" fill="none" stroke="#000" stroke-width="1.3"/>
<line x1="408" y1="273.5" x2="437.5" y2="273.5" stroke="#000" stroke-width="1"/>
<rect x="414.6" y="291" width="3.8" height="27" rx="0" fill="none" stroke="#000" stroke-width="1.3"/>
<line x1="408" y1="304.5" x2="437.5" y2="304.5" stroke="#000" stroke-width="1"/>
<rect x="414.6" y="322.5" width="3.8" height="27" rx="0" fill="none" stroke="#000" stroke-width="1.3"/>
<line x1="408" y1="336.5" x2="437.5" y2="336.5" stroke="#000" stroke-width="1"/>
<rect x="171.5" y="83.3" width="171" height="85.7" rx="0" fill="none" stroke="#000" stroke-width="1.7"/>
<line x1="332.5" y1="83.3" x2="332.5" y2="169" stroke="#000" stroke-width="1.3"/>
<polyline points="234,83.3 234,116 270.5,116 270.5,83.3" fill="none" stroke="#000" stroke-width="1.7" stroke-linejoin="miter"/>
<path d="M235.6,116 L235.6,96 Q235.6,93 238.6,93 L265.8,93 Q268.8,93 268.8,96 L268.8,116" fill="none" stroke="#000" stroke-width="1.7" />
<line x1="240.5" y1="93" x2="240.5" y2="105" stroke="#000" stroke-width="1"/>
<line x1="245.5" y1="93" x2="245.5" y2="105" stroke="#000" stroke-width="1"/>
<line x1="257.5" y1="93" x2="257.5" y2="105" stroke="#000" stroke-width="1"/>
<line x1="263.5" y1="93" x2="263.5" y2="105" stroke="#000" stroke-width="1"/>
<polyline points="240.3,105 252,111.3 263,105" fill="none" stroke="#000" stroke-width="1.3" stroke-linejoin="miter"/>
<line x1="240.3" y1="105.5" x2="263" y2="105.5" stroke="#000" stroke-width="1"/>
<line x1="240" y1="116" x2="240" y2="169" stroke="#000" stroke-width="1.7"/>
<line x1="265" y1="116" x2="265" y2="169" stroke="#000" stroke-width="1.7"/>
<line x1="242.5" y1="121" x2="242.5" y2="169" stroke="#000" stroke-width="1"/>
<line x1="262.5" y1="121" x2="262.5" y2="169" stroke="#000" stroke-width="1"/>
<line x1="240" y1="121.5" x2="265" y2="121.5" stroke="#000" stroke-width="1"/>
<line x1="209.5" y1="77" x2="209.5" y2="232" stroke="#000" stroke-width="1"/>
<line x1="252.5" y1="77" x2="252.5" y2="209" stroke="#000" stroke-width="1"/>
<line x1="295.5" y1="77" x2="295.5" y2="203" stroke="#000" stroke-width="1"/>
<path d="M226.5,205 Q229.5,210.3 226.5,215.6" fill="none" stroke="#000" stroke-width="1.3" />
<line x1="226.5" y1="205.5" x2="239" y2="205.5" stroke="#000" stroke-width="1.3"/>
<line x1="226.5" y1="215.5" x2="239" y2="215.5" stroke="#000" stroke-width="1.3"/>
<circle cx="246.3" cy="210.3" r="7.5" fill="#fff" stroke="#000" stroke-width="1.3"/>
<line x1="246.5" y1="197.3" x2="246.5" y2="225" stroke="#000" stroke-width="1"/>
<line x1="232.4" y1="210.5" x2="254" y2="210.5" stroke="#000" stroke-width="1"/>
<line x1="239" y1="202.5" x2="301.5" y2="202.5" stroke="#000" stroke-width="1.3"/>
<line x1="239" y1="217.5" x2="301.5" y2="217.5" stroke="#000" stroke-width="1.3"/>
<path d="M313,207.4 L258,207.4 Q255.3,210.3 258,213.2 L313,213.2" fill="none" stroke="#000" stroke-width="1.7" />
<line x1="256.5" y1="210.3" x2="313" y2="210.3" stroke="#000" stroke-width="2"/>
<line x1="312.5" y1="205.5" x2="312.5" y2="215" stroke="#000" stroke-width="1.3"/>
<polyline points="346,200.6 301.5,200.6 301.5,219.6 346,219.6" fill="none" stroke="#000" stroke-width="1.7" stroke-linejoin="miter"/>
<polyline points="346,203.2 314.8,203.2 314.8,217.9 346,217.9" fill="none" stroke="#000" stroke-width="1.7" stroke-linejoin="miter"/>
<line x1="314.8" y1="210.5" x2="346" y2="210.5" stroke="#000" stroke-width="1"/>
<rect x="296" y="203.6" width="4" height="2.8" rx="0" fill="none" stroke="#000" stroke-width="1"/>
<rect x="296" y="214.6" width="4" height="2.8" rx="0" fill="none" stroke="#000" stroke-width="1"/>
<line x1="30" y1="273.5" x2="223" y2="273.5" stroke="#000" stroke-width="1"/>
<line x1="223" y1="273.5" x2="372" y2="273.5" stroke="#000" stroke-width="1" stroke-dasharray="9 4"/>
<line x1="372" y1="273.5" x2="440" y2="273.5" stroke="#000" stroke-width="1"/>
</g>
<line x1="30" y1="83.5" x2="171.5" y2="83.5" stroke="#000" stroke-width="1"/>
<line x1="33.5" y1="83.3" x2="33.5" y2="271.5" stroke="#000" stroke-width="1"/>
<polygon points="33.5,83.3 34.4,88.3 32.6,88.3" fill="#000"/>
<polygon points="33.5,271.5 32.6,266.5 34.4,266.5" fill="#000"/>
<text transform="translate(31 178) rotate(-90) scale(0.78 1)" font-family='"Liberation Sans",sans-serif' font-size="10" font-weight="normal" text-anchor="middle" fill="#000"  stroke="#000" stroke-width="0.25">97</text>
<line x1="135" y1="169.5" x2="171.5" y2="169.5" stroke="#000" stroke-width="1"/>
<line x1="139.5" y1="83.3" x2="139.5" y2="169" stroke="#000" stroke-width="1"/>
<polygon points="139,83.3 139.9,88.3 138.1,88.3" fill="#000"/>
<polygon points="139,169 138.1,164 139.9,164" fill="#000"/>
<text transform="translate(136.5 126) rotate(-90) scale(0.78 1)" font-family='"Liberation Sans",sans-serif' font-size="10" font-weight="normal" text-anchor="middle" fill="#000"  stroke="#000" stroke-width="0.25">44</text>
<line x1="58" y1="234.5" x2="98" y2="234.5" stroke="#000" stroke-width="1"/>
<line x1="58" y1="312.5" x2="98" y2="312.5" stroke="#000" stroke-width="1"/>
<line x1="63.5" y1="170" x2="63.5" y2="312.4" stroke="#000" stroke-width="1"/>
<polygon points="63,234.4 62.1,229.4 63.9,229.4" fill="#000"/>
<polygon points="63,312.4 62.1,307.4 63.9,307.4" fill="#000"/>
<text transform="translate(54.3 221) rotate(-90) scale(0.78 1)" font-family='"Liberation Sans",sans-serif' font-size="10" font-weight="normal" text-anchor="start" fill="#000"  stroke="#000" stroke-width="0.25">ø40h10(</text>
<text transform="translate(48.3 184) rotate(-90) scale(0.78 1)" font-family='"Liberation Sans",sans-serif' font-size="9" font-weight="normal" text-anchor="middle" fill="#000"  stroke="#000" stroke-width="0.25">0</text>
<text transform="translate(59.6 184.3) rotate(-90) scale(0.78 1)" font-family='"Liberation Sans",sans-serif' font-size="9" font-weight="normal" text-anchor="middle" fill="#000"  stroke="#000" stroke-width="0.25">−0.1</text>
<text transform="translate(55.5 174.5) rotate(-90) scale(0.78 1)" font-family='"Liberation Sans",sans-serif' font-size="10" font-weight="normal" text-anchor="middle" fill="#000"  stroke="#000" stroke-width="0.25">)</text>
<line x1="79" y1="251.5" x2="106" y2="251.5" stroke="#000" stroke-width="1"/>
<line x1="79" y1="294.5" x2="106" y2="294.5" stroke="#000" stroke-width="1"/>
<line x1="84.5" y1="196.5" x2="84.5" y2="294.6" stroke="#000" stroke-width="1"/>
<polygon points="84,251.2 83.1,246.2 84.9,246.2" fill="#000"/>
<polygon points="84,294.6 83.1,289.6 84.9,289.6" fill="#000"/>
<text transform="translate(82.2 221.5) rotate(-90) scale(0.78 1)" font-family='"Liberation Sans",sans-serif' font-size="10" font-weight="normal" text-anchor="start" fill="#000"  stroke="#000" stroke-width="0.25">ø22H9</text>
<line x1="96" y1="348.5" x2="130" y2="348.5" stroke="#000" stroke-width="1"/>
<polygon points="98,348.3 93,349.2 93,347.4" fill="#000"/>
<polygon points="106,348.3 111,347.4 111,349.2" fill="#000"/>
<text transform="translate(113 346.5) scale(0.78 1)" font-family='"Liberation Sans",sans-serif' font-size="10" font-weight="normal" text-anchor="middle" fill="#000"  stroke="#000" stroke-width="0.25">7</text>
<line x1="98.5" y1="312.4" x2="98.5" y2="415" stroke="#000" stroke-width="1"/>
<line x1="106.5" y1="303" x2="106.5" y2="387" stroke="#000" stroke-width="1"/>
<line x1="120.5" y1="300" x2="120.5" y2="352" stroke="#000" stroke-width="1"/>
<line x1="106" y1="382.5" x2="137.3" y2="382.5" stroke="#000" stroke-width="1"/>
<polygon points="106,382 111,381.1 111,382.9" fill="#000"/>
<polygon points="137.3,382 132.3,382.9 132.3,381.1" fill="#000"/>
<text transform="translate(121 379.5) scale(0.78 1)" font-family='"Liberation Sans",sans-serif' font-size="10" font-weight="normal" text-anchor="middle" fill="#000"  stroke="#000" stroke-width="0.25">15.5</text>
<line x1="98" y1="409.5" x2="137.3" y2="409.5" stroke="#000" stroke-width="1"/>
<polygon points="98,409.5 103,408.6 103,410.4" fill="#000"/>
<polygon points="137.3,409.5 132.3,410.4 132.3,408.6" fill="#000"/>
<text transform="translate(117.5 407) scale(0.78 1)" font-family='"Liberation Sans",sans-serif' font-size="10" font-weight="normal" text-anchor="middle" fill="#000"  stroke="#000" stroke-width="0.25">19.5</text>
<line x1="137.5" y1="355" x2="137.5" y2="415" stroke="#000" stroke-width="1"/>
<line x1="137.3" y1="397.5" x2="431.3" y2="397.5" stroke="#000" stroke-width="1"/>
<polygon points="137.3,397 142.3,396.1 142.3,397.9" fill="#000"/>
<polygon points="431.3,397 426.3,397.9 426.3,396.1" fill="#000"/>
<text transform="translate(283 395) scale(0.78 1)" font-family='"Liberation Sans",sans-serif' font-size="10" font-weight="normal" text-anchor="middle" fill="#000"  stroke="#000" stroke-width="0.25">142</text>
<line x1="431.5" y1="354" x2="431.5" y2="402" stroke="#000" stroke-width="1"/>
<line x1="357.5" y1="359" x2="357.5" y2="386" stroke="#000" stroke-width="1"/>
<line x1="388.5" y1="359" x2="388.5" y2="386" stroke="#000" stroke-width="1"/>
<line x1="357" y1="381.5" x2="388" y2="381.5" stroke="#000" stroke-width="1"/>
<polygon points="357,381.2 362,380.3 362,382.1" fill="#000"/>
<polygon points="388,381.2 383,382.1 383,380.3" fill="#000"/>
<text transform="translate(372.5 378.7) scale(0.78 1)" font-family='"Liberation Sans",sans-serif' font-size="10" font-weight="normal" text-anchor="middle" fill="#000"  stroke="#000" stroke-width="0.25">10.5</text>
<line x1="414" y1="186.5" x2="466" y2="186.5" stroke="#000" stroke-width="1"/>
<line x1="414" y1="359.5" x2="466" y2="359.5" stroke="#000" stroke-width="1"/>
<line x1="460.5" y1="186.8" x2="460.5" y2="359" stroke="#000" stroke-width="1"/>
<polygon points="460,186.8 460.9,191.8 459.1,191.8" fill="#000"/>
<polygon points="460,359 459.1,354 460.9,354" fill="#000"/>
<text transform="translate(457.5 276) rotate(-90) scale(0.78 1)" font-family='"Liberation Sans",sans-serif' font-size="10" font-weight="normal" text-anchor="middle" fill="#000"  stroke="#000" stroke-width="0.25">88</text>
<g id="v2">
<polyline points="638,169 638.8,169 638.8,83.3 802,83.3 802,169" fill="none" stroke="#000" stroke-width="1.3" stroke-linejoin="miter"/>
<line x1="637.6" y1="169.5" x2="803" y2="169.5" stroke="#000" stroke-width="1.3"/>
<line x1="637.5" y1="169" x2="637.5" y2="316" stroke="#000" stroke-width="1.3"/>
<line x1="803.5" y1="169" x2="803.5" y2="316" stroke="#000" stroke-width="1.3"/>
<line x1="637.5" y1="316" x2="637.5" y2="395" stroke="#000" stroke-width="1"/>
<line x1="803.5" y1="316" x2="803.5" y2="395" stroke="#000" stroke-width="1"/>
<polyline points="803,187 805.2,187 805.2,215.5 803,215.5" fill="none" stroke="#000" stroke-width="1.3" stroke-linejoin="miter"/>
<line x1="677.5" y1="76" x2="677.5" y2="199" stroke="#000" stroke-width="1.3"/>
<line x1="763.5" y1="76" x2="763.5" y2="199" stroke="#000" stroke-width="1.3"/>
<line x1="720.5" y1="84" x2="720.5" y2="362" stroke="#000" stroke-width="1"/>
<line x1="628" y1="273.5" x2="811" y2="273.5" stroke="#000" stroke-width="1"/>
<circle cx="720.5" cy="107.5" r="21.4" fill="none" stroke="#000" stroke-width="1.3"/>
<circle cx="720.5" cy="107.5" r="9.3" fill="none" stroke="#000" stroke-width="1.3"/>
<polygon points="729.1,107.5 724.8,114.95 716.2,114.95 711.9,107.5 716.2,100.05 724.8,100.05" fill="none" stroke="#000" stroke-width="1.7" stroke-linejoin="miter"/>
<line x1="698" y1="107.5" x2="743.5" y2="107.5" stroke="#000" stroke-width="1"/>
<circle cx="705.5" cy="148.8" r="17.9" fill="none" stroke="#000" stroke-width="1.3"/>
<circle cx="705.5" cy="148.8" r="9.3" fill="none" stroke="#000" stroke-width="1.3"/>
<polygon points="714.1,148.8 709.8,156.25 701.2,156.25 696.9,148.8 701.2,141.35 709.8,141.35" fill="none" stroke="#000" stroke-width="1.7" stroke-linejoin="miter"/>
<line x1="686" y1="148.5" x2="725" y2="148.5" stroke="#000" stroke-width="1"/>
<line x1="705.5" y1="128" x2="705.5" y2="169" stroke="#000" stroke-width="1"/>
<path d="M676.4,190.5 L764.6,190.5 A40,40 0 0 1 804.6,230.5 L804.5,246 A88.3,88.3 0 0 1 804.5,300.5 L804.6,316 A40,40 0 0 1 764.6,356 L676.4,356 A40,40 0 0 1 636.4,316 L636.5,300.5 A88.3,88.3 0 0 1 636.5,246 L636.4,230.5 A40,40 0 0 1 676.4,190.5 Z" fill="none" stroke="#000" stroke-width="1.3" />
<path d="M689.69,356 A88.3,88.3 0 0 0 751.31,356" fill="none" stroke="#000" stroke-width="1.3" />
<path d="M637.9,252.36 A85.2,85.2 0 0 0 637.9,294.14" fill="none" stroke="#000" stroke-width="1" />
<path d="M803.1,252.36 A85.2,85.2 0 0 1 803.1,294.14" fill="none" stroke="#000" stroke-width="1" />
<circle cx="720.5" cy="273.25" r="79.8" fill="none" stroke="#000" stroke-width="1.3"/>
<circle cx="720.5" cy="273.25" r="61.5" fill="none" stroke="#000" stroke-width="1.3"/>
<circle cx="720.5" cy="273.25" r="39.2" fill="none" stroke="#000" stroke-width="1.3"/>
<circle cx="720.5" cy="273.25" r="29.7" fill="none" stroke="#000" stroke-width="1.3"/>
<circle cx="720.5" cy="273.25" r="24.7" fill="none" stroke="#000" stroke-width="1.3"/>
<line x1="697.5" y1="264.5" x2="795" y2="264.5" stroke="#000" stroke-width="1.3"/>
<line x1="697.5" y1="283.5" x2="795" y2="283.5" stroke="#000" stroke-width="1.3"/>
<line x1="710.5" y1="264.5" x2="710.5" y2="283" stroke="#000" stroke-width="1.3"/>
<line x1="729.5" y1="264.5" x2="729.5" y2="283" stroke="#000" stroke-width="1.3"/>
<circle cx="658" cy="273.25" r="15.2" fill="none" stroke="#000" stroke-width="1.3"/>
<circle cx="658" cy="273.25" r="13.6" fill="none" stroke="#000" stroke-width="1.3"/>
<circle cx="658" cy="273.25" r="5.6" fill="none" stroke="#000" stroke-width="1"/>
<polygon points="665,273.25 661.5,279.31 654.5,279.31 651,273.25 654.5,267.19 661.5,267.19" fill="none" stroke="#000" stroke-width="1.7" stroke-linejoin="miter"/>
<circle cx="782.7" cy="273.25" r="15.2" fill="none" stroke="#000" stroke-width="1.3"/>
<circle cx="782.7" cy="273.25" r="13.6" fill="none" stroke="#000" stroke-width="1.3"/>
<circle cx="782.7" cy="273.25" r="5.6" fill="none" stroke="#000" stroke-width="1"/>
<polygon points="789.7,273.25 786.2,279.31 779.2,279.31 775.7,273.25 779.2,267.19 786.2,267.19" fill="none" stroke="#000" stroke-width="1.7" stroke-linejoin="miter"/>
<circle cx="720.5" cy="210.8" r="15.2" fill="none" stroke="#000" stroke-width="1.3"/>
<circle cx="720.5" cy="210.8" r="13.6" fill="none" stroke="#000" stroke-width="1.3"/>
<circle cx="720.5" cy="210.8" r="5.6" fill="none" stroke="#000" stroke-width="1"/>
<polygon points="727.5,210.8 724,216.86 717,216.86 713.5,210.8 717,204.74 724,204.74" fill="none" stroke="#000" stroke-width="1.7" stroke-linejoin="miter"/>
<circle cx="720.5" cy="336" r="15.2" fill="none" stroke="#000" stroke-width="1.3"/>
<circle cx="720.5" cy="336" r="13.6" fill="none" stroke="#000" stroke-width="1.3"/>
<circle cx="720.5" cy="336" r="5.6" fill="none" stroke="#000" stroke-width="1"/>
<polygon points="727.5,336 724,342.06 717,342.06 713.5,336 717,329.94 724,329.94" fill="none" stroke="#000" stroke-width="1.7" stroke-linejoin="miter"/>
<circle cx="663.8" cy="216.4" r="9.3" fill="none" stroke="#000" stroke-width="1.3"/>
<circle cx="663.8" cy="216.4" r="7.2" fill="none" stroke="#000" stroke-width="1.3"/>
<line x1="647.8" y1="216.5" x2="679.8" y2="216.5" stroke="#000" stroke-width="1"/>
<line x1="663.5" y1="200.4" x2="663.5" y2="232.4" stroke="#000" stroke-width="1"/>
<circle cx="777.2" cy="216.4" r="9.3" fill="none" stroke="#000" stroke-width="1.3"/>
<circle cx="777.2" cy="216.4" r="7.2" fill="none" stroke="#000" stroke-width="1.3"/>
<line x1="761.2" y1="216.5" x2="793.2" y2="216.5" stroke="#000" stroke-width="1"/>
<line x1="777.5" y1="200.4" x2="777.5" y2="232.4" stroke="#000" stroke-width="1"/>
<circle cx="663.8" cy="330.2" r="9.3" fill="none" stroke="#000" stroke-width="1.3"/>
<circle cx="663.8" cy="330.2" r="7.2" fill="none" stroke="#000" stroke-width="1.3"/>
<line x1="647.8" y1="330.5" x2="679.8" y2="330.5" stroke="#000" stroke-width="1"/>
<line x1="663.5" y1="314.2" x2="663.5" y2="346.2" stroke="#000" stroke-width="1"/>
<circle cx="777.2" cy="330.2" r="9.3" fill="none" stroke="#000" stroke-width="1.3"/>
<circle cx="777.2" cy="330.2" r="7.2" fill="none" stroke="#000" stroke-width="1.3"/>
<line x1="761.2" y1="330.5" x2="793.2" y2="330.5" stroke="#000" stroke-width="1"/>
<line x1="777.5" y1="314.2" x2="777.5" y2="346.2" stroke="#000" stroke-width="1"/>
<line x1="768.2" y1="207.4" x2="786.2" y2="225.4" stroke="#000" stroke-width="1"/>
<line x1="768.2" y1="339.2" x2="786.2" y2="321.2" stroke="#000" stroke-width="1"/>
<line x1="654.8" y1="321.2" x2="672.8" y2="339.2" stroke="#000" stroke-width="1"/>
<polyline points="563,180 619,180 663.8,216.4" fill="none" stroke="#000" stroke-width="1.3" stroke-linejoin="miter"/>
<text transform="translate(564.5 177.6) scale(0.85 1)" font-family='"Liberation Sans",sans-serif' font-size="13.2" font-weight="normal" text-anchor="start" fill="#000" letter-spacing="1" >4-M10-7H</text>
<text transform="translate(585.6 194) scale(0.7 1)" font-family='"Liberation Sans","Noto Serif CJK SC",serif' font-size="11" font-weight="bold" text-anchor="start" fill="#000" >深</text>
<text transform="translate(594 194.4) scale(0.62 1)" font-family='"Liberation Sans",sans-serif' font-size="14" font-weight="normal" text-anchor="start" fill="#000" >17</text>
<line x1="614.5" y1="234.5" x2="804.5" y2="303.75" stroke="#000" stroke-width="1"/>
<text transform="translate(618 233) rotate(20) scale(0.82 1)" font-family='"Liberation Sans",sans-serif' font-size="10.5" font-weight="normal" text-anchor="start" fill="#000"  stroke="#000" stroke-width="0.25">ø82</text>
<line x1="757" y1="190.5" x2="892.5" y2="190.5" stroke="#000" stroke-width="1"/>
<line x1="721.6" y1="355.5" x2="892.5" y2="355.5" stroke="#000" stroke-width="1"/>
<line x1="887.5" y1="190.5" x2="887.5" y2="355.6" stroke="#000" stroke-width="1"/>
<polygon points="887.5,190.5 888.4,195.5 886.6,195.5" fill="#000"/>
<polygon points="887.5,355.6 886.6,350.6 888.4,350.6" fill="#000"/>
<text transform="translate(885.5 277) rotate(-90) scale(0.78 1)" font-family='"Liberation Sans",sans-serif' font-size="10" font-weight="normal" text-anchor="middle" fill="#000"  stroke="#000" stroke-width="0.25">84</text>
<line x1="761" y1="216.5" x2="872" y2="216.5" stroke="#000" stroke-width="1"/>
<line x1="761" y1="330.5" x2="872" y2="330.5" stroke="#000" stroke-width="1"/>
<line x1="868.5" y1="216.4" x2="868.5" y2="330" stroke="#000" stroke-width="1"/>
<polygon points="868,216.4 868.9,221.4 867.1,221.4" fill="#000"/>
<polygon points="868,330 867.1,325 868.9,325" fill="#000"/>
<text transform="translate(866 273.5) rotate(-90) scale(0.78 1)" font-family='"Liberation Sans",sans-serif' font-size="10" font-weight="normal" text-anchor="middle" fill="#000"  stroke="#000" stroke-width="0.25">58</text>
<line x1="795" y1="264.5" x2="834" y2="264.5" stroke="#000" stroke-width="1"/>
<line x1="795" y1="283.5" x2="834" y2="283.5" stroke="#000" stroke-width="1"/>
<line x1="830.5" y1="233" x2="830.5" y2="283" stroke="#000" stroke-width="1"/>
<polygon points="830,264.5 829.1,259.5 830.9,259.5" fill="#000"/>
<polygon points="830,283 829.1,278 830.9,278" fill="#000"/>
<text transform="translate(824 256.6) rotate(-90) scale(0.78 1)" font-family='"Liberation Sans",sans-serif' font-size="10.5" font-weight="normal" text-anchor="start" fill="#000"  stroke="#000" stroke-width="0.25">8</text>
<text transform="translate(821.2 248.8) rotate(-90) scale(0.58 1)" font-family='"Liberation Sans",sans-serif' font-size="8.8" font-weight="normal" text-anchor="start" fill="#000"  stroke="#000" stroke-width="0.25">+0.15</text>
<text transform="translate(828 248.8) rotate(-90) scale(0.7 1)" font-family='"Liberation Sans",sans-serif' font-size="8.8" font-weight="normal" text-anchor="start" fill="#000"  stroke="#000" stroke-width="0.25">0</text>
<line x1="663.5" y1="314" x2="663.5" y2="385" stroke="#000" stroke-width="1"/>
<line x1="777.5" y1="314" x2="777.5" y2="385" stroke="#000" stroke-width="1"/>
<line x1="663.8" y1="380.5" x2="777.2" y2="380.5" stroke="#000" stroke-width="1"/>
<polygon points="663.8,380.6 668.8,379.7 668.8,381.5" fill="#000"/>
<polygon points="777.2,380.6 772.2,381.5 772.2,379.7" fill="#000"/>
<text transform="translate(720.5 378.3) scale(0.78 1)" font-family='"Liberation Sans",sans-serif' font-size="10" font-weight="normal" text-anchor="middle" fill="#000"  stroke="#000" stroke-width="0.25">58</text>
<line x1="637.8" y1="392.5" x2="803" y2="392.5" stroke="#000" stroke-width="1"/>
<polygon points="637.8,392 642.8,391.1 642.8,392.9" fill="#000"/>
<polygon points="803,392 798,392.9 798,391.1" fill="#000"/>
<text transform="translate(720.5 389.2) scale(0.78 1)" font-family='"Liberation Sans",sans-serif' font-size="10" font-weight="normal" text-anchor="middle" fill="#000"  stroke="#000" stroke-width="0.25">84</text>
</g>
<g id="v3">
<polyline points="136.4,547 98,547 98,626 136.4,626" fill="none" stroke="#000" stroke-width="1.3" stroke-linejoin="miter"/>
<polyline points="136.4,668 136.4,504.4 283.6,504.4 283.6,499 346.4,499" fill="none" stroke="#000" stroke-width="1.3" stroke-linejoin="miter"/>
<polyline points="136.4,668 283.6,668 283.6,674.4 346.4,674.4" fill="none" stroke="#000" stroke-width="1.3" stroke-linejoin="miter"/>
<line x1="169.5" y1="504.4" x2="169.5" y2="668" stroke="#000" stroke-width="1.3"/>
<polyline points="259,504.4 259,488.4 307.4,488.4 307.4,499" fill="none" stroke="#000" stroke-width="1.3" stroke-linejoin="miter"/>
<line x1="284.5" y1="482.4" x2="284.5" y2="507" stroke="#000" stroke-width="1"/>
<path d="M171,543.8 A38,38 0 0 1 209,505.8 L294,505.8 A38,38 0 0 1 332,543.8 L332,629 A38,38 0 0 1 294,667 L209,667 A38,38 0 0 1 171,629 Z" fill="none" stroke="#000" stroke-width="1.7" />
<line x1="208" y1="505.6" x2="300" y2="505.6" stroke="#000" stroke-width="1.7"/>
<line x1="208" y1="667.2" x2="300" y2="667.2" stroke="#000" stroke-width="1.7"/>
<line x1="174.5" y1="545" x2="174.5" y2="628" stroke="#000" stroke-width="1.3"/>
<polyline points="171,545 174,545" fill="none" stroke="#000" stroke-width="1.3" stroke-linejoin="miter"/>
<polyline points="171,628 174,628" fill="none" stroke="#000" stroke-width="1.3" stroke-linejoin="miter"/>
<polyline points="332,544 342.4,544 342.4,599 332,599" fill="none" stroke="#000" stroke-width="1.3" stroke-linejoin="miter"/>
<line x1="346.4" y1="499" x2="346.4" y2="674.4" stroke="#000" stroke-width="1.7"/>
<line x1="357" y1="500.4" x2="357" y2="672.4" stroke="#000" stroke-width="1.7"/>
<line x1="388.5" y1="500.4" x2="388.5" y2="672.4" stroke="#000" stroke-width="1.3"/>
<path d="M346.4,500.4 L411,500.4 L413,502.4 L413,670.4 L411,672.4 L346.4,672.4" fill="none" stroke="#000" stroke-width="1.3" />
<line x1="418.4" y1="505.2" x2="418.4" y2="667" stroke="#000" stroke-width="1.7"/>
<path d="M418.4,505.2 L430,505.2 Q431.8,505.2 431.9,507.7 Q431.2,521.1 431.9,534.5 Q431.8,537 430,537 L418.4,537" fill="none" stroke="#000" stroke-width="1.7" />
<line x1="418.4" y1="514.5" x2="431.6" y2="514.5" stroke="#000" stroke-width="1.3"/>
<line x1="418.4" y1="527.5" x2="431.6" y2="527.5" stroke="#000" stroke-width="1.3"/>
<path d="M418.4,539.6 L430,539.6 Q431.8,539.6 431.9,542.1 Q431.2,556.3 431.9,570.5 Q431.8,573 430,573 L418.4,573" fill="none" stroke="#000" stroke-width="1.7" />
<line x1="418.4" y1="548.5" x2="431.6" y2="548.5" stroke="#000" stroke-width="1.3"/>
<line x1="418.4" y1="563.5" x2="431.6" y2="563.5" stroke="#000" stroke-width="1.3"/>
<path d="M418.4,575.6 L430,575.6 Q431.8,575.6 431.9,578.1 Q431.2,587.5 431.9,596.9 Q431.8,599.4 430,599.4 L418.4,599.4" fill="none" stroke="#000" stroke-width="1.7" />
<line x1="418.4" y1="583.5" x2="431.6" y2="583.5" stroke="#000" stroke-width="1.3"/>
<line x1="418.4" y1="591.5" x2="431.6" y2="591.5" stroke="#000" stroke-width="1.3"/>
<path d="M418.4,602 L430,602 Q431.8,602 431.9,604.5 Q431.2,615.5 431.9,626.5 Q431.8,629 430,629 L418.4,629" fill="none" stroke="#000" stroke-width="1.7" />
<line x1="418.4" y1="611.5" x2="431.6" y2="611.5" stroke="#000" stroke-width="1.3"/>
<line x1="418.4" y1="619.5" x2="431.6" y2="619.5" stroke="#000" stroke-width="1.3"/>
<path d="M418.4,631.6 L430,631.6 Q431.8,631.6 431.9,634.1 Q431.2,649.3 431.9,664.5 Q431.8,667 430,667 L418.4,667" fill="none" stroke="#000" stroke-width="1.7" />
<line x1="418.4" y1="640.5" x2="431.6" y2="640.5" stroke="#000" stroke-width="1.3"/>
<line x1="418.4" y1="657.5" x2="431.6" y2="657.5" stroke="#000" stroke-width="1.3"/>
<rect x="414.6" y="509.7" width="3.8" height="27" rx="0" fill="none" stroke="#000" stroke-width="1.3"/>
<rect x="414.6" y="541.4" width="3.8" height="27" rx="0" fill="none" stroke="#000" stroke-width="1.3"/>
<rect x="414.6" y="572.8" width="3.8" height="27" rx="0" fill="none" stroke="#000" stroke-width="1.3"/>
<rect x="414.6" y="604" width="3.8" height="27" rx="0" fill="none" stroke="#000" stroke-width="1.3"/>
<rect x="414.6" y="635.5" width="3.8" height="27" rx="0" fill="none" stroke="#000" stroke-width="1.3"/>
<line x1="382" y1="523.5" x2="436" y2="523.5" stroke="#000" stroke-width="1"/>
<line x1="408" y1="555.5" x2="436" y2="555.5" stroke="#000" stroke-width="1"/>
<line x1="408" y1="617.5" x2="436" y2="617.5" stroke="#000" stroke-width="1"/>
<line x1="382" y1="649.5" x2="436" y2="649.5" stroke="#000" stroke-width="1"/>
<line x1="88" y1="586.5" x2="441" y2="586.5" stroke="#000" stroke-width="1"/>
<line x1="208.5" y1="520" x2="208.5" y2="712" stroke="#000" stroke-width="1"/>
<line x1="295.5" y1="520" x2="295.5" y2="712" stroke="#000" stroke-width="1"/>
<line x1="251.5" y1="505" x2="251.5" y2="668" stroke="#000" stroke-width="1"/>
<line x1="186" y1="543.5" x2="330" y2="543.5" stroke="#000" stroke-width="1"/>
<line x1="186" y1="629.5" x2="330" y2="629.5" stroke="#000" stroke-width="1"/>
<line x1="235" y1="527.5" x2="377" y2="527.5" stroke="#000" stroke-width="1"/>
<line x1="235" y1="644.5" x2="377" y2="644.5" stroke="#000" stroke-width="1"/>
<line x1="168" y1="571.5" x2="346" y2="571.5" stroke="#000" stroke-width="1"/>
<line x1="124" y1="523.5" x2="174" y2="523.5" stroke="#000" stroke-width="1"/>
<line x1="124" y1="648.5" x2="174" y2="648.5" stroke="#000" stroke-width="1"/>
<line x1="343" y1="532.3" x2="360" y2="532.3" stroke="#000" stroke-width="1.6"/>
<line x1="343" y1="647.4" x2="360" y2="647.4" stroke="#000" stroke-width="1.6"/>
<circle cx="208.6" cy="543.6" r="19.6" fill="none" stroke="#000" stroke-width="1.3"/>
<circle cx="208.6" cy="543.6" r="18.2" fill="none" stroke="#000" stroke-width="1.3"/>
<circle cx="208.6" cy="543.6" r="13.5" fill="none" stroke="#000" stroke-width="1.3"/>
<circle cx="207.1" cy="540.1" r="9.5" fill="none" stroke="#000" stroke-width="1"/>
<circle cx="295.6" cy="543.6" r="19.6" fill="none" stroke="#000" stroke-width="1.3"/>
<circle cx="295.6" cy="543.6" r="18.2" fill="none" stroke="#000" stroke-width="1.3"/>
<circle cx="295.6" cy="543.6" r="13.5" fill="none" stroke="#000" stroke-width="1.3"/>
<circle cx="294.1" cy="540.1" r="9.5" fill="none" stroke="#000" stroke-width="1"/>
<circle cx="208.6" cy="629.4" r="19.6" fill="none" stroke="#000" stroke-width="1.3"/>
<circle cx="208.6" cy="629.4" r="18.2" fill="none" stroke="#000" stroke-width="1.3"/>
<circle cx="208.6" cy="629.4" r="13.8" fill="none" stroke="#000" stroke-width="1.3"/>
<circle cx="216.6" cy="629.7" r="9.2" fill="none" stroke="#000" stroke-width="1"/>
<circle cx="295.6" cy="629.4" r="19.6" fill="none" stroke="#000" stroke-width="1.3"/>
<circle cx="295.6" cy="629.4" r="18.2" fill="none" stroke="#000" stroke-width="1.3"/>
<circle cx="295.6" cy="629.4" r="2.3" fill="none" stroke="#000" stroke-width="1"/>
<circle cx="295.6" cy="629.4" r="1" fill="#000" stroke="#000" stroke-width="1"/>
<ellipse cx="304.6" cy="629.4" rx="2.3" ry="5.2" transform="rotate(0 295.6 629.4)" fill="none" stroke="#000" stroke-width="1.25"/>
<ellipse cx="304.6" cy="629.4" rx="2.3" ry="5.2" transform="rotate(125 295.6 629.4)" fill="none" stroke="#000" stroke-width="1.25"/>
<ellipse cx="304.6" cy="629.4" rx="2.3" ry="5.2" transform="rotate(235 295.6 629.4)" fill="none" stroke="#000" stroke-width="1.25"/>
<circle cx="251.4" cy="527.6" r="19" fill="none" stroke="#000" stroke-width="1.3"/>
<circle cx="251.4" cy="527.6" r="17.6" fill="none" stroke="#000" stroke-width="1.3"/>
<circle cx="251.4" cy="527.6" r="14" fill="none" stroke="#000" stroke-width="1.3"/>
<circle cx="251.4" cy="527.6" r="9" fill="none" stroke="#000" stroke-width="1.3"/>
<polygon points="262.7,527.6 257.05,537.39 245.75,537.39 240.1,527.6 245.75,517.81 257.05,517.81" fill="none" stroke="#000" stroke-width="1.7" stroke-linejoin="miter"/>
<line x1="232.4" y1="527.6" x2="270.4" y2="527.6" stroke="#000" stroke-width="1.4"/>
<line x1="251.4" y1="508.6" x2="251.4" y2="546.6" stroke="#000" stroke-width="1.4"/>
<circle cx="251.4" cy="644.8" r="19" fill="none" stroke="#000" stroke-width="1.3"/>
<circle cx="251.4" cy="644.8" r="17.6" fill="none" stroke="#000" stroke-width="1.3"/>
<circle cx="251.4" cy="644.8" r="14" fill="none" stroke="#000" stroke-width="1.3"/>
<circle cx="251.4" cy="644.8" r="9" fill="none" stroke="#000" stroke-width="1.3"/>
<polygon points="262.7,644.8 257.05,654.59 245.75,654.59 240.1,644.8 245.75,635.01 257.05,635.01" fill="none" stroke="#000" stroke-width="1.7" stroke-linejoin="miter"/>
<line x1="232.4" y1="644.8" x2="270.4" y2="644.8" stroke="#000" stroke-width="1.4"/>
<line x1="251.4" y1="625.8" x2="251.4" y2="663.8" stroke="#000" stroke-width="1.4"/>
<text transform="translate(185.4 533.6) scale(0.62 1)" font-family='"Liberation Serif","Noto Serif CJK SC",serif' font-size="15.5" font-weight="bold" text-anchor="start" fill="#000" stroke="#000" stroke-width="0.3">A</text>
<text transform="translate(193.1 533.4) scale(0.72 1)" font-family='"Liberation Sans","Noto Sans CJK SC",sans-serif' font-size="11.7" font-weight="normal" text-anchor="start" fill="#000" stroke="#000" stroke-width="0.3">口</text>
<text transform="translate(306.2 533.2) scale(0.62 1)" font-family='"Liberation Serif","Noto Serif CJK SC",serif' font-size="15.5" font-weight="bold" text-anchor="start" fill="#000" stroke="#000" stroke-width="0.3">B</text>
<text transform="translate(313.7 533) scale(0.72 1)" font-family='"Liberation Sans","Noto Sans CJK SC",sans-serif' font-size="11.7" font-weight="normal" text-anchor="start" fill="#000" stroke="#000" stroke-width="0.3">口</text>
<text transform="translate(192.6 658.4) scale(0.62 1)" font-family='"Liberation Serif","Noto Serif CJK SC",serif' font-size="15.5" font-weight="bold" text-anchor="start" fill="#000" stroke="#000" stroke-width="0.3">T</text>
<text transform="translate(201.3 658.2) scale(0.72 1)" font-family='"Liberation Sans","Noto Sans CJK SC",sans-serif' font-size="11.7" font-weight="normal" text-anchor="start" fill="#000" stroke="#000" stroke-width="0.3">口</text>
<text transform="translate(307.8 657.8) scale(0.62 1)" font-family='"Liberation Serif","Noto Serif CJK SC",serif' font-size="15.5" font-weight="bold" text-anchor="start" fill="#000" stroke="#000" stroke-width="0.3">P</text>
<text transform="translate(314.9 657.6) scale(0.72 1)" font-family='"Liberation Sans","Noto Sans CJK SC",sans-serif' font-size="11.7" font-weight="normal" text-anchor="start" fill="#000" stroke="#000" stroke-width="0.3">口</text>
<polyline points="92.4,693.4 177,693.4 208.6,629" fill="none" stroke="#000" stroke-width="1.3" stroke-linejoin="miter"/>
<text transform="translate(98 686.6) scale(0.8 1)" font-family='"Liberation Sans",sans-serif' font-size="13.5" font-weight="normal" text-anchor="start" fill="#000" letter-spacing="0.95" >4-M20X1.5-7H</text>
<text transform="translate(139 706.2) scale(0.72 1)" font-family='"Liberation Sans","Noto Serif CJK SC",serif' font-size="11" font-weight="bold" text-anchor="start" fill="#000" >深</text>
<text transform="translate(147 706.6) scale(0.64 1)" font-family='"Liberation Sans",sans-serif' font-size="14" font-weight="normal" text-anchor="start" fill="#000" >16</text>
<line x1="208.6" y1="708.5" x2="295.6" y2="708.5" stroke="#000" stroke-width="1"/>
<polygon points="208.6,708.4 213.6,707.5 213.6,709.3" fill="#000"/>
<polygon points="295.6,708.4 290.6,709.3 290.6,707.5" fill="#000"/>
<text transform="translate(251.6 706.2) scale(0.8 1)" font-family='"Liberation Sans",sans-serif' font-size="9.3" font-weight="normal" text-anchor="middle" fill="#000"  stroke="#000" stroke-width="0.25">44</text>
<line x1="328.5" y1="545" x2="328.5" y2="628" stroke="#000" stroke-width="1"/>
<polygon points="328,545 328.9,550 327.1,550" fill="#000"/>
<polygon points="328,628 327.1,623 328.9,623" fill="#000"/>
<text transform="translate(325.6 586.5) rotate(-90) scale(0.8 1)" font-family='"Liberation Sans",sans-serif' font-size="9.5" font-weight="normal" text-anchor="middle" fill="#000"  stroke="#000" stroke-width="0.25">44</text>
<line x1="372.5" y1="528" x2="372.5" y2="644.4" stroke="#000" stroke-width="1"/>
<polygon points="372.4,528 373.3,533 371.5,533" fill="#000"/>
<polygon points="372.4,644.4 371.5,639.4 373.3,639.4" fill="#000"/>
<text transform="translate(370 586.5) rotate(-90) scale(0.8 1)" font-family='"Liberation Sans",sans-serif' font-size="9.5" font-weight="normal" text-anchor="middle" fill="#000"  stroke="#000" stroke-width="0.25">60</text>
</g>
<g id="sch">
<text transform="translate(533.2 505.8) scale(0.75 1)" font-family='"Liberation Serif","Noto Serif CJK SC",serif' font-size="14" font-weight="bold" text-anchor="middle" fill="#000" >滑阀机能图</text>
<text transform="translate(517.2 526.8) scale(0.6 1)" font-family='"Liberation Serif","Noto Serif CJK SC",serif' font-size="8.5" font-weight="bold" text-anchor="middle" fill="#000" stroke="#000" stroke-width="0.3">A</text>
<text transform="translate(560.6 526.8) scale(0.6 1)" font-family='"Liberation Serif","Noto Serif CJK SC",serif' font-size="8.5" font-weight="bold" text-anchor="middle" fill="#000" stroke="#000" stroke-width="0.3">B</text>
<rect x="488.6" y="532" width="92.6" height="106.1" rx="0" fill="none" stroke="#000" stroke-width="1.15"/>
<polyline points="518.6,527 518.6,587.8 533.2,587.8 533.2,593.6" fill="none" stroke="#000" stroke-width="1.15" stroke-linejoin="miter"/>
<polyline points="558.3,527 558.3,587.8 544.7,587.8 544.7,593.6" fill="none" stroke="#000" stroke-width="1.15" stroke-linejoin="miter"/>
<line x1="518.6" y1="538.5" x2="558.3" y2="538.5" stroke="#000" stroke-width="1.15"/>
<circle cx="528.7" cy="538.6" r="2.1" fill="#fff" stroke="#000" stroke-width="0.9"/>
<circle cx="548" cy="538.6" r="2.1" fill="#fff" stroke="#000" stroke-width="0.9"/>
<line x1="538.5" y1="538.6" x2="538.5" y2="556" stroke="#000" stroke-width="1.15"/>
<line x1="497.4" y1="544.5" x2="538.5" y2="544.5" stroke="#000" stroke-width="1.4"/>
<circle cx="518.6" cy="544.5" r="1.3" fill="#000" stroke="none" stroke-width="0"/>
<line x1="497.5" y1="544.5" x2="497.5" y2="645.6" stroke="#000" stroke-width="1.15"/>
<line x1="518.6" y1="556.5" x2="558.3" y2="556.5" stroke="#000" stroke-width="1.15"/>
<rect x="525.6" y="552.5" width="6.6" height="7.3" rx="0" fill="#fff" stroke="#000" stroke-width="1.6"/>
<line x1="528.5" y1="552.5" x2="528.5" y2="557.5" stroke="#000" stroke-width="1"/>
<polygon points="528.9,558.5 527.8,556 530,556" fill="#000"/>
<polyline points="527.9,552.5 527.9,549.4 522.3,549.4 522.3,553.5 525.6,555" fill="none" stroke="#000" stroke-width="0.9" stroke-linejoin="miter"/>
<polyline points="526.3,560.6 531.5,561.5 526.3,562.6 531.5,563.6 527.9,564.2" fill="none" stroke="#000" stroke-width="0.8" stroke-linejoin="miter"/>
<rect x="544.9" y="552.5" width="6.6" height="7.3" rx="0" fill="#fff" stroke="#000" stroke-width="1.6"/>
<line x1="548.5" y1="552.5" x2="548.5" y2="557.5" stroke="#000" stroke-width="1"/>
<polygon points="548.2,558.5 547.1,556 549.3,556" fill="#000"/>
<polyline points="547.2,552.5 547.2,549.4 554.8,549.4 554.8,553.5 551.5,555" fill="none" stroke="#000" stroke-width="0.9" stroke-linejoin="miter"/>
<polyline points="545.6,560.6 550.8,561.5 545.6,562.6 550.8,563.6 547.2,564.2" fill="none" stroke="#000" stroke-width="0.8" stroke-linejoin="miter"/>
<circle cx="538.4" cy="575.1" r="6.6" fill="#fff" stroke="#000" stroke-width="1.15"/>
<polyline points="531.8,575.3 527.8,575.3 527.8,584.2 536.9,584.2 536.9,593.6" fill="none" stroke="#000" stroke-width="1.15" stroke-linejoin="miter"/>
<polyline points="545,575.3 550.2,575.3 550.2,584.2 541.3,584.2 541.3,593.6" fill="none" stroke="#000" stroke-width="1.15" stroke-linejoin="miter"/>
<polygon points="536.6,575.1 533.4,576.6 533.4,573.6" fill="#000"/>
<polygon points="540.2,575.1 543.4,573.6 543.4,576.6" fill="#000"/>
<line x1="532" y1="575.5" x2="534" y2="575.5" stroke="#000" stroke-width="1.2"/>
<line x1="543" y1="575.5" x2="545" y2="575.5" stroke="#000" stroke-width="1.2"/>
<line x1="538.5" y1="568.5" x2="538.5" y2="565.4" stroke="#000" stroke-width="0.8"/>
<line x1="538.4" y1="565.5" x2="568.4" y2="565.5" stroke="#000" stroke-width="0.8"/>
<circle cx="558.3" cy="564.4" r="1.2" fill="#000" stroke="none" stroke-width="0"/>
<polyline points="558.3,564.4 568.4,564.4 568.4,599 563.8,599" fill="none" stroke="#000" stroke-width="0.9" stroke-linejoin="miter"/>
<rect x="514.2" y="593.6" width="49.6" height="14.8" rx="0" fill="#fff" stroke="#000" stroke-width="2"/>
<line x1="517.4" y1="595" x2="527.6" y2="607" stroke="#000" stroke-width="1.1"/>
<line x1="524.6" y1="597.5" x2="527.6" y2="597.5" stroke="#000" stroke-width="0.9"/>
<line x1="527.5" y1="594" x2="527.5" y2="597" stroke="#000" stroke-width="0.9"/>
<line x1="549.2" y1="607" x2="559.4" y2="595.6" stroke="#000" stroke-width="1.1"/>
<line x1="559.4" y1="595.6" x2="561.2" y2="607" stroke="#000" stroke-width="1"/>
<line x1="552.5" y1="607" x2="558" y2="601" stroke="#000" stroke-width="0.9"/>
<line x1="549.5" y1="597.5" x2="552.5" y2="597.5" stroke="#000" stroke-width="0.9"/>
<line x1="549.5" y1="594" x2="549.5" y2="597" stroke="#000" stroke-width="0.9"/>
<polyline points="532.4,607.2 532.4,602.2 545,602.2 545,607.2" fill="none" stroke="#000" stroke-width="1.6" stroke-linejoin="miter"/>
<line x1="534.5" y1="604.5" x2="543" y2="604.5" stroke="#000" stroke-width="0.9"/>
<line x1="531.4" y1="598.5" x2="546" y2="598.5" stroke="#000" stroke-width="0.9"/>
<line x1="533.5" y1="593.6" x2="533.5" y2="598.4" stroke="#000" stroke-width="1.1"/>
<line x1="536.5" y1="593.6" x2="536.5" y2="598.4" stroke="#000" stroke-width="1.1"/>
<line x1="541.5" y1="593.6" x2="541.5" y2="598.4" stroke="#000" stroke-width="1.1"/>
<line x1="544.5" y1="593.6" x2="544.5" y2="598.4" stroke="#000" stroke-width="1.1"/>
<line x1="533.5" y1="602.2" x2="533.5" y2="608.4" stroke="#000" stroke-width="0.9"/>
<line x1="544.5" y1="602.2" x2="544.5" y2="608.4" stroke="#000" stroke-width="0.9"/>
<rect x="481.9" y="596.3" width="32.3" height="7.7" rx="0" fill="none" stroke="#000" stroke-width="1.15"/>
<polyline points="500.5,597.3 502,599.3 503.5,597.3 505,599.3 506.5,597.3 508,599.3 509.5,597.3 511,599.3 512.5,597.3" fill="none" stroke="#000" stroke-width="0.9" stroke-linejoin="miter"/>
<polyline points="506,604 507,606.5 508.5,604.3 510,606.5 511.5,604.3 513,606.5 514.2,604.6" fill="none" stroke="#000" stroke-width="0.9" stroke-linejoin="miter"/>
<rect x="501" y="597" width="8.5" height="2.8" rx="0" fill="none" stroke="#000" stroke-width="0.9"/>
<line x1="503" y1="600.5" x2="513.5" y2="600.5" stroke="#000" stroke-width="0.8"/>
<path d="M479.2,591.6 Q473.6,600 479.2,608.2" fill="none" stroke="#000" stroke-width="2" />
<polygon points="480,590.6 479.06,594.21 476.93,592.72" fill="#000"/>
<polygon points="480,609.2 476.93,607.08 479.06,605.59" fill="#000"/>
<polyline points="563.8,605.6 565,603.8 566.3,607.2 567.6,603.8 568.9,607.2 570.2,603.8 571.3,605.6" fill="none" stroke="#000" stroke-width="0.9" stroke-linejoin="miter"/>
<path d="M560.3,588.2 Q568.5,580.8 576.7,588.2" fill="none" stroke="#000" stroke-width="1.7" />
<polygon points="559.4,589.2 560.96,585.81 562.79,587.64" fill="#000"/>
<polygon points="577.6,589.2 574.21,587.64 576.04,585.81" fill="#000"/>
<polyline points="533.3,608.4 533.3,616.6" fill="none" stroke="#000" stroke-width="1.15" stroke-linejoin="miter"/>
<line x1="497.4" y1="616.5" x2="544.4" y2="616.5" stroke="#000" stroke-width="1.15"/>
<polygon points="538.4,614.1 540.9,616.6 538.4,619.1 535.9,616.6" fill="#fff" stroke="#000" stroke-width="0.9" stroke-linejoin="miter"/>
<line x1="544.5" y1="608.4" x2="544.5" y2="647.7" stroke="#000" stroke-width="1.15"/>
<circle cx="544.4" cy="633" r="2.2" fill="#fff" stroke="#000" stroke-width="1.1"/>
<line x1="497.4" y1="626.5" x2="544.4" y2="626.5" stroke="#000" stroke-width="1.15"/>
<rect x="514.2" y="623.4" width="6.6" height="7.3" rx="0" fill="#fff" stroke="#000" stroke-width="1.6"/>
<line x1="517.5" y1="623.4" x2="517.5" y2="628.4" stroke="#000" stroke-width="1"/>
<polygon points="517.5,629.4 516.4,626.9 518.6,626.9" fill="#000"/>
<polyline points="516.5,623.4 516.5,620.3 524.1,620.3 524.1,624.4 520.8,625.9" fill="none" stroke="#000" stroke-width="0.9" stroke-linejoin="miter"/>
<polyline points="514.9,631.5 520.1,632.4 514.9,633.5 520.1,634.5 516.5,635.1" fill="none" stroke="#000" stroke-width="0.8" stroke-linejoin="miter"/>
<text transform="translate(503.9 644.8) scale(0.6 1)" font-family='"Liberation Serif","Noto Serif CJK SC",serif' font-size="8" font-weight="bold" text-anchor="middle" fill="#000" stroke="#000" stroke-width="0.3">T</text>
<text transform="translate(548.8 644.8) scale(0.6 1)" font-family='"Liberation Serif","Noto Serif CJK SC",serif' font-size="8" font-weight="bold" text-anchor="middle" fill="#000" stroke="#000" stroke-width="0.3">P</text>
<polygon points="497.4,645.4 502.6,650.6 497.4,655.8 492.2,650.6" fill="#fff" stroke="#000" stroke-width="1.15" stroke-linejoin="miter"/>
<line x1="492.6" y1="650.5" x2="502.2" y2="650.5" stroke="#000" stroke-width="0.8" stroke-dasharray="1.6 1"/>
<line x1="497.5" y1="655.8" x2="497.5" y2="667" stroke="#000" stroke-width="1.15"/>
<circle cx="544.4" cy="651.4" r="3.7" fill="#fff" stroke="#000" stroke-width="1.15"/>
<polygon points="544.4,647.8 546,650.4 542.8,650.4" fill="#000"/>
<path d="M552.5,648.2 Q548.6,651.4 552.5,654.6" fill="none" stroke="#000" stroke-width="0.9" />
<line x1="549" y1="650.5" x2="553.5" y2="650.5" stroke="#000" stroke-width="0.8"/>
<line x1="549" y1="652.5" x2="553.5" y2="652.5" stroke="#000" stroke-width="0.8"/>
<line x1="548.1" y1="651.5" x2="551" y2="651.5" stroke="#000" stroke-width="0.8"/>
<polyline points="544.4,655.1 544.4,659.2 524,659.2 524,667" fill="none" stroke="#000" stroke-width="1.15" stroke-linejoin="miter"/>
<polyline points="493.9,661.3 493.9,668.6 527.5,668.6 527.5,661.3" fill="none" stroke="#000" stroke-width="1.15" stroke-linejoin="miter"/>
</g>
<g id="txt" font-family='"Liberation Sans",sans-serif' font-size="16.65" fill="#0a0a14">
<text x="586.8" y="411">Technical Requirements</text>
<text x="586.8" y="429.55">1. Steering Gear Model: BZZ1 Open-Hand Non-Reac-</text>
<text x="586.8" y="448.1">tive Type</text>
<text x="586.8" y="466.65">2. Maximum Inlet Pressure: 17.5 MPa, Maximum Con-</text>
<text x="586.8" y="485.2">tinuous Back Pressure: 1.6 MPa;</text>
<text x="586.8" y="503.75">3. Shaft Extension Connection: Short-End Cross-Pierc-</text>
<text x="586.8" y="522.3">ing Connection;</text>
<text x="586.8" y="540.85">4. Maximum Power Steering Torque: 1.7-2.8 Nm;</text>
<text x="586.8" y="559.4">5. FK Block:</text>
<text x="586.8" y="577.95">1. Oil Port Seal: Flat (or as per customer&#39;s require-</text>
<text x="586.8" y="596.5">ments);</text>
<text x="586.8" y="615.05">2. Safety Net Set Pressure: 10 MPa, Bidirectional Buf-</text>
<text x="586.8" y="633.6">fer Set Pressure: 16 MPa (or as per customer&#39;s re-</text>
<text x="586.8" y="652.15">quirements);</text>
</g>
<g id="tb">
<line x1="643.6" y1="654.1" x2="995.6" y2="654.1" stroke="#000" stroke-width="1.5"/>
<line x1="643.6" y1="654.1" x2="643.6" y2="764" stroke="#000" stroke-width="1.5"/>
<line x1="643.6" y1="667.5" x2="800.4" y2="667.5" stroke="#000" stroke-width="1.2"/>
<line x1="643.6" y1="681.5" x2="800.4" y2="681.5" stroke="#000" stroke-width="1.2"/>
<line x1="643.6" y1="695.5" x2="800.4" y2="695.5" stroke="#000" stroke-width="1.2"/>
<line x1="643.6" y1="709.5" x2="800.4" y2="709.5" stroke="#000" stroke-width="1.2"/>
<line x1="643.6" y1="722.5" x2="800.4" y2="722.5" stroke="#000" stroke-width="1.2"/>
<line x1="643.6" y1="736.5" x2="800.4" y2="736.5" stroke="#000" stroke-width="1.2"/>
<line x1="643.6" y1="750.5" x2="800.4" y2="750.5" stroke="#000" stroke-width="1.2"/>
<line x1="663.5" y1="654.1" x2="663.5" y2="709.2" stroke="#000" stroke-width="1.1"/>
<line x1="682.5" y1="654.1" x2="682.5" y2="709.2" stroke="#000" stroke-width="1.1"/>
<line x1="714.5" y1="654.1" x2="714.5" y2="709.2" stroke="#000" stroke-width="1.1"/>
<line x1="667.5" y1="709.2" x2="667.5" y2="764" stroke="#000" stroke-width="1.1"/>
<line x1="690.5" y1="709.2" x2="690.5" y2="764" stroke="#000" stroke-width="1.1"/>
<line x1="722.5" y1="709.2" x2="722.5" y2="764" stroke="#000" stroke-width="1.1"/>
<line x1="745.5" y1="654.1" x2="745.5" y2="764" stroke="#000" stroke-width="1.1"/>
<line x1="768.5" y1="654.1" x2="768.5" y2="764" stroke="#000" stroke-width="1.1"/>
<line x1="800.4" y1="654.1" x2="800.4" y2="764" stroke="#000" stroke-width="1.5"/>
<line x1="898.1" y1="654.1" x2="898.1" y2="764" stroke="#000" stroke-width="1.5"/>
<line x1="800.4" y1="709.5" x2="898.1" y2="709.5" stroke="#000" stroke-width="1.2"/>
<line x1="800.4" y1="728.5" x2="898.1" y2="728.5" stroke="#000" stroke-width="1.2"/>
<line x1="800.4" y1="745.5" x2="898.1" y2="745.5" stroke="#000" stroke-width="1.2"/>
<line x1="851.5" y1="709" x2="851.5" y2="745.8" stroke="#000" stroke-width="1.2"/>
<line x1="875.5" y1="709" x2="875.5" y2="745.8" stroke="#000" stroke-width="1.2"/>
<line x1="813.5" y1="728" x2="813.5" y2="745.8" stroke="#000" stroke-width="1.1"/>
<line x1="825.5" y1="728" x2="825.5" y2="745.8" stroke="#000" stroke-width="1.1"/>
<line x1="838.5" y1="728" x2="838.5" y2="745.8" stroke="#000" stroke-width="1.1"/>
<line x1="898.1" y1="687.5" x2="995.6" y2="687.5" stroke="#000" stroke-width="1.2"/>
<line x1="898.1" y1="722.5" x2="995.6" y2="722.5" stroke="#000" stroke-width="1.2"/>
<line x1="898.1" y1="746.5" x2="995.6" y2="746.5" stroke="#000" stroke-width="1.2"/>
<text transform="translate(653.5 705.6) scale(0.68 1)" font-family='"Liberation Serif","Noto Serif CJK SC",serif' font-size="9.5" font-weight="bold" text-anchor="middle" fill="#000" stroke="#000" stroke-width="0.35">标记</text>
<text transform="translate(673 705.6) scale(0.68 1)" font-family='"Liberation Serif","Noto Serif CJK SC",serif' font-size="9.5" font-weight="bold" text-anchor="middle" fill="#000" stroke="#000" stroke-width="0.35">处数</text>
<text transform="translate(698.5 705.6) scale(0.68 1)" font-family='"Liberation Serif","Noto Serif CJK SC",serif' font-size="9.5" font-weight="bold" text-anchor="middle" fill="#000" stroke="#000" stroke-width="0.35">分区</text>
<text transform="translate(730 705.6) scale(0.63 1)" font-family='"Liberation Serif","Noto Serif CJK SC",serif' font-size="9.5" font-weight="bold" text-anchor="middle" fill="#000" stroke="#000" stroke-width="0.35">更改文件号</text>
<text transform="translate(757 705.6) scale(0.68 1)" font-family='"Liberation Serif","Noto Serif CJK SC",serif' font-size="9.5" font-weight="bold" text-anchor="middle" fill="#000" stroke="#000" stroke-width="0.35">签名</text>
<text transform="translate(784.5 705.6) scale(0.62 1)" font-family='"Liberation Serif","Noto Serif CJK SC",serif' font-size="9.5" font-weight="bold" text-anchor="middle" fill="#000" stroke="#000" stroke-width="0.35">年、月、日</text>
<text transform="translate(655.4 719.3) scale(0.68 1)" font-family='"Liberation Serif","Noto Serif CJK SC",serif' font-size="9.5" font-weight="bold" text-anchor="middle" fill="#000" stroke="#000" stroke-width="0.35">设计</text>
<text transform="translate(706.5 719.4) scale(0.78 1)" font-family='"Liberation Serif","Noto Serif CJK SC",serif' font-size="9.5" font-weight="bold" text-anchor="middle" fill="#000" stroke="#000" stroke-width="0.35">20211120</text>
<text transform="translate(733.5 719.3) scale(0.68 1)" font-family='"Liberation Serif","Noto Serif CJK SC",serif' font-size="9.5" font-weight="bold" text-anchor="middle" fill="#000" stroke="#000" stroke-width="0.35">标准化</text>
<text transform="translate(655.4 746.6) scale(0.68 1)" font-family='"Liberation Serif","Noto Serif CJK SC",serif' font-size="9.5" font-weight="bold" text-anchor="middle" fill="#000" stroke="#000" stroke-width="0.35">审核</text>
<text transform="translate(655.4 760.3) scale(0.68 1)" font-family='"Liberation Serif","Noto Serif CJK SC",serif' font-size="9.5" font-weight="bold" text-anchor="middle" fill="#000" stroke="#000" stroke-width="0.35">工艺</text>
<text transform="translate(733.5 760.3) scale(0.68 1)" font-family='"Liberation Serif","Noto Serif CJK SC",serif' font-size="9.5" font-weight="bold" text-anchor="middle" fill="#000" stroke="#000" stroke-width="0.35">批准</text>
<text transform="translate(849.4 686.8) scale(0.68 1)" font-family='"Liberation Serif","Noto Serif CJK SC",serif' font-size="14" font-weight="bold" text-anchor="middle" fill="#000" stroke="#000" stroke-width="0.35">组合件</text>
<text transform="translate(946.8 709.8) scale(0.68 1)" font-family='"Liberation Serif","Noto Serif CJK SC",serif' font-size="14" font-weight="bold" text-anchor="middle" fill="#000" stroke="#000" stroke-width="0.35">全液压转向器</text>
<text transform="translate(825.3 722.4) scale(0.66 1)" font-family='"Liberation Serif","Noto Serif CJK SC",serif' font-size="9.5" font-weight="bold" text-anchor="middle" fill="#000" stroke="#000" stroke-width="0.35">阶段标记</text>
<text transform="translate(862.4 722.4) scale(0.66 1)" font-family='"Liberation Serif","Noto Serif CJK SC",serif' font-size="9.5" font-weight="bold" text-anchor="middle" fill="#000" stroke="#000" stroke-width="0.35">重量</text>
<text transform="translate(886.3 722.4) scale(0.66 1)" font-family='"Liberation Serif","Noto Serif CJK SC",serif' font-size="9.5" font-weight="bold" text-anchor="middle" fill="#000" stroke="#000" stroke-width="0.35">比例</text>
<text transform="translate(886.3 741) scale(0.7 1)" font-family='"Liberation Serif","Noto Serif CJK SC",serif' font-size="10" font-weight="bold" text-anchor="middle" fill="#000" stroke="#000" stroke-width="0.35">1:1</text>
<text transform="translate(809.5 758.6) scale(0.7 1)" font-family='"Liberation Serif","Noto Serif CJK SC",serif' font-size="10" font-weight="bold" text-anchor="middle" fill="#000" stroke="#000" stroke-width="0.35">共</text>
<text transform="translate(823.6 758.6) scale(0.7 1)" font-family='"Liberation Serif","Noto Serif CJK SC",serif' font-size="10" font-weight="bold" text-anchor="middle" fill="#000" stroke="#000" stroke-width="0.35">1</text>
<text transform="translate(837 758.6) scale(0.7 1)" font-family='"Liberation Serif","Noto Serif CJK SC",serif' font-size="10" font-weight="bold" text-anchor="middle" fill="#000" stroke="#000" stroke-width="0.35">张</text>
<text transform="translate(860 758.6) scale(0.7 1)" font-family='"Liberation Serif","Noto Serif CJK SC",serif' font-size="10" font-weight="bold" text-anchor="middle" fill="#000" stroke="#000" stroke-width="0.35">第</text>
<text transform="translate(874 758.6) scale(0.7 1)" font-family='"Liberation Serif","Noto Serif CJK SC",serif' font-size="10" font-weight="bold" text-anchor="middle" fill="#000" stroke="#000" stroke-width="0.35">1</text>
<text transform="translate(888 758.6) scale(0.7 1)" font-family='"Liberation Serif","Noto Serif CJK SC",serif' font-size="10" font-weight="bold" text-anchor="middle" fill="#000" stroke="#000" stroke-width="0.35">张</text>
<text transform="translate(910 681.8)" font-family='"Liberation Sans",sans-serif' font-size="16" font-weight="normal" text-anchor="start" fill="#0b0b18" >BXHS</text>
<text transform="translate(900.7 739.6) scale(0.81 1)" font-family='"Liberation Sans",sans-serif' font-size="15.5" font-weight="normal" text-anchor="start" fill="#0b0b18" >BZZ1-E80+FKA</text>
</g>
<g id="icon">
<rect x="467.4" y="84.6" width="27.4" height="26.4" rx="2" fill="#efefef" opacity="0.55"/>
<rect x="468.4" y="84" width="25.4" height="25" rx="1" fill="#e6e6e6" opacity="0.6"/>
<rect x="469.4" y="84.3" width="23.3" height="23" fill="#fff" stroke="#dcdcdc" stroke-width="0.8"/>
<polyline points="476.8,89.2 474.2,89.2 474.2,91.8" fill="none" stroke="#555" stroke-width="0.9" stroke-linejoin="miter"/>
<polyline points="485.6,89.2 488.2,89.2 488.2,91.8" fill="none" stroke="#555" stroke-width="0.9" stroke-linejoin="miter"/>
<polyline points="476.8,102.6 474.2,102.6 474.2,100" fill="none" stroke="#555" stroke-width="0.9" stroke-linejoin="miter"/>
<polyline points="485.6,102.6 488.2,102.6 488.2,100" fill="none" stroke="#555" stroke-width="0.9" stroke-linejoin="miter"/>
<rect x="476.2" y="91.5" width="9.6" height="9.2" rx="0.5" fill="none" stroke="#555" stroke-width="0.9"/>
<line x1="476.6" y1="92.5" x2="485.4" y2="92.5" stroke="#e8554e" stroke-width="0.8"/>
<line x1="476.2" y1="94.6" x2="485.8" y2="94.6" stroke="#555" stroke-width="0.8"/>
<line x1="476.2" y1="97.7" x2="485.8" y2="97.7" stroke="#555" stroke-width="0.8"/>
<line x1="479.4" y1="94.6" x2="479.4" y2="100.7" stroke="#555" stroke-width="0.8"/>
<line x1="482.6" y1="94.6" x2="482.6" y2="100.7" stroke="#555" stroke-width="0.8"/>
</g>
<line x1="995.8" y1="0" x2="995.8" y2="765" stroke="#3a3a3a" stroke-width="2"/>
<line x1="0" y1="764" x2="996.8" y2="764" stroke="#3a3a3a" stroke-width="2"/></svg></body></html>
